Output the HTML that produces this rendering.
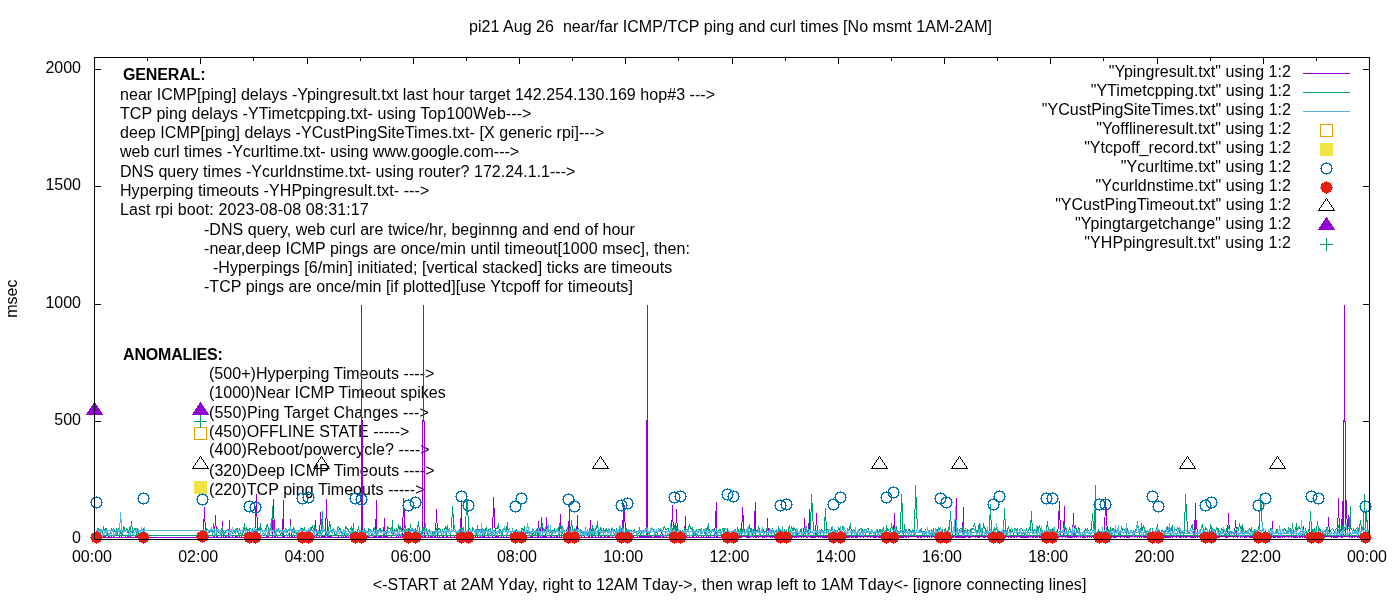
<!DOCTYPE html>
<html lang="en"><head><meta charset="utf-8"><title>pi21 Aug 26 near/far ICMP/TCP ping and curl times</title>
<style>html,body{margin:0;padding:0;background:#fff}body{width:1400px;height:600px;overflow:hidden}svg{display:block}text{font-family:"Liberation Sans",sans-serif;font-size:16px;fill:#000}.b{font-weight:bold}</style></head><body>
<svg width="1400" height="600" viewBox="0 0 1400 600">
<rect width="1400" height="600" fill="#fff"/>
<g id="labels">
<text x="469.1" y="32" xml:space="preserve" style="letter-spacing:0.0324px">pi21 Aug 26  near/far ICMP/TCP ping and curl times [No msmt 1AM-2AM]</text>
<text x="372.8" y="590.3" style="letter-spacing:0.0384px">&lt;-START at 2AM Yday, right to 12AM Tday-&gt;, then wrap left to 1AM Tday&lt;- [ignore connecting lines]</text>
<text transform="translate(17.3,298.6) rotate(-90)" text-anchor="middle">msec</text>
<text x="81" y="542.8" text-anchor="end">0</text>
<text x="81" y="425.3" text-anchor="end">500</text>
<text x="81" y="307.8" text-anchor="end">1000</text>
<text x="81" y="190.3" text-anchor="end">1500</text>
<text x="81" y="72.8" text-anchor="end">2000</text>
<text x="92.0" y="562.4" text-anchor="middle">00:00</text>
<text x="198.2" y="562.4" text-anchor="middle">02:00</text>
<text x="304.5" y="562.4" text-anchor="middle">04:00</text>
<text x="410.8" y="562.4" text-anchor="middle">06:00</text>
<text x="517.0" y="562.4" text-anchor="middle">08:00</text>
<text x="623.2" y="562.4" text-anchor="middle">10:00</text>
<text x="729.5" y="562.4" text-anchor="middle">12:00</text>
<text x="835.8" y="562.4" text-anchor="middle">14:00</text>
<text x="942.0" y="562.4" text-anchor="middle">16:00</text>
<text x="1048.2" y="562.4" text-anchor="middle">18:00</text>
<text x="1154.5" y="562.4" text-anchor="middle">20:00</text>
<text x="1260.8" y="562.4" text-anchor="middle">22:00</text>
<text x="1367.0" y="562.4" text-anchor="middle">00:00</text>
<text class="b" x="123" y="80" style="letter-spacing:-0.1500px">GENERAL:</text>
<text x="120" y="100" style="letter-spacing:0.0530px">near ICMP[ping] delays -Ypingresult.txt last hour target 142.254.130.169 hop#3 ---&gt;</text>
<text x="120" y="119" style="letter-spacing:0.0630px">TCP ping delays -YTimetcpping.txt- using Top100Web---&gt;</text>
<text x="120" y="138" style="letter-spacing:0.0537px">deep ICMP[ping] delays -YCustPingSiteTimes.txt- [X generic rpi]---&gt;</text>
<text x="120" y="157" style="letter-spacing:0.0073px">web curl times -Ycurltime.txt- using www.google.com---&gt;</text>
<text x="120" y="177" style="letter-spacing:0.0381px">DNS query times -Ycurldnstime.txt- using router? 172.24.1.1---&gt;</text>
<text x="120" y="196" style="letter-spacing:0.0698px">Hyperping timeouts -YHPpingresult.txt- ---&gt;</text>
<text x="120" y="215" style="letter-spacing:0.0971px">Last rpi boot: 2023-08-08 08:31:17</text>
<text x="204" y="235" style="letter-spacing:0.0407px">-DNS query, web curl are twice/hr, beginnng and end of hour</text>
<text x="204" y="254" style="letter-spacing:0.0500px">-near,deep ICMP pings are once/min until timeout[1000 msec], then:</text>
<text x="212.9" y="273" style="letter-spacing:0.0603px">-Hyperpings [6/min] initiated; [vertical stacked] ticks are timeouts</text>
<text x="204" y="292" style="letter-spacing:0.0323px">-TCP pings are once/min [if plotted][use Ytcpoff for timeouts]</text>
<text class="b" x="123" y="360" style="letter-spacing:-0.1700px">ANOMALIES:</text>
<text x="209" y="379" style="letter-spacing:0.0467px">(500+)Hyperping Timeouts ----&gt;</text>
<text x="209" y="398" style="letter-spacing:0.0167px">(1000)Near ICMP Timeout spikes</text>
<text x="209" y="417.6" style="letter-spacing:0.1241px">(550)Ping Target Changes ---&gt;</text>
<text x="209" y="437" style="letter-spacing:0.0600px">(450)OFFLINE STATE -----&gt;</text>
<text x="209" y="455.3" style="letter-spacing:0.1172px">(400)Reboot/powercycle? ----&gt;</text>
<text x="209" y="476" style="letter-spacing:0.0483px">(320)Deep ICMP Timeouts ----&gt;</text>
<text x="209" y="495" style="letter-spacing:0.0690px">(220)TCP ping Timeouts -----&gt;</text>
</g>
<g id="legend">
<text x="1291" y="77.0" text-anchor="end" style="letter-spacing:0.0519px">&quot;Ypingresult.txt&quot; using 1:2</text>
<text x="1291" y="96.0" text-anchor="end" style="letter-spacing:0.0357px">&quot;YTimetcpping.txt&quot; using 1:2</text>
<text x="1291" y="115.1" text-anchor="end" style="letter-spacing:0.0294px">&quot;YCustPingSiteTimes.txt&quot; using 1:2</text>
<text x="1291" y="134.1" text-anchor="end" style="letter-spacing:0.0667px">&quot;Yofflineresult.txt&quot; using 1:2</text>
<text x="1291" y="153.2" text-anchor="end" style="letter-spacing:0.0333px">&quot;Ytcpoff_record.txt&quot; using 1:2</text>
<text x="1291" y="172.2" text-anchor="end" style="letter-spacing:0.0560px">&quot;Ycurltime.txt&quot; using 1:2</text>
<text x="1291" y="191.2" text-anchor="end" style="letter-spacing:0.0357px">&quot;Ycurldnstime.txt&quot; using 1:2</text>
<text x="1291" y="210.3" text-anchor="end" style="letter-spacing:0.0312px">&quot;YCustPingTimeout.txt&quot; using 1:2</text>
<text x="1291" y="229.3" text-anchor="end" style="letter-spacing:0.0690px">&quot;Ypingtargetchange&quot; using 1:2</text>
<text x="1291" y="248.4" text-anchor="end" style="letter-spacing:0.0828px">&quot;YHPpingresult.txt&quot; using 1:2</text>
</g>
<g id="ticks"><path d="M94.5 539.5h6.5M1369.5 539.5h-6.5M94.5 421.5h6.5M1369.5 421.5h-6.5M94.5 304.5h6.5M1369.5 304.5h-6.5M94.5 186.5h6.5M1369.5 186.5h-6.5M94.5 69.5h6.5M1369.5 69.5h-6.5M94.5 57.5v6.5M94.5 539.5v-6.5M147.5 57.5v3.5M147.5 539.5v-3.5M200.5 57.5v6.5M200.5 539.5v-6.5M253.5 57.5v3.5M253.5 539.5v-3.5M307.5 57.5v6.5M307.5 539.5v-6.5M360.5 57.5v3.5M360.5 539.5v-3.5M413.5 57.5v6.5M413.5 539.5v-6.5M466.5 57.5v3.5M466.5 539.5v-3.5M519.5 57.5v6.5M519.5 539.5v-6.5M572.5 57.5v3.5M572.5 539.5v-3.5M625.5 57.5v6.5M625.5 539.5v-6.5M678.5 57.5v3.5M678.5 539.5v-3.5M732.5 57.5v6.5M732.5 539.5v-6.5M785.5 57.5v3.5M785.5 539.5v-3.5M838.5 57.5v6.5M838.5 539.5v-6.5M891.5 57.5v3.5M891.5 539.5v-3.5M944.5 57.5v6.5M944.5 539.5v-6.5M997.5 57.5v3.5M997.5 539.5v-3.5M1050.5 57.5v6.5M1050.5 539.5v-6.5M1103.5 57.5v3.5M1103.5 539.5v-3.5M1157.5 57.5v6.5M1157.5 539.5v-6.5M1210.5 57.5v3.5M1210.5 539.5v-3.5M1263.5 57.5v6.5M1263.5 539.5v-6.5M1316.5 57.5v3.5M1316.5 539.5v-3.5M1369.5 57.5v6.5M1369.5 539.5v-6.5" stroke="#000" stroke-width="1" fill="none" shape-rendering="crispEdges"/></g>
<g id="data">
<path d="M200.5,536.5 201.5,537.5 202.5,536.5 203.5,530.5 204.5,507.5 205.5,536.5 206.5,536.5 206.5,536.5 207.5,536.5 208.5,537.5 209.5,537.5 210.5,537.5 211.5,537.5 212.5,537.5 213.5,536.5 214.5,537.5 214.5,536.5 215.5,515.5 216.5,535.5 217.5,537.5 218.5,537.5 219.5,537.5 220.5,537.5 221.5,536.5 222.5,521.5 222.5,530.5 223.5,537.5 224.5,537.5 225.5,536.5 226.5,536.5 227.5,537.5 228.5,537.5 229.5,520.5 229.5,537.5 230.5,537.5 231.5,537.5 232.5,536.5 233.5,537.5 234.5,537.5 235.5,536.5 236.5,536.5 237.5,536.5 237.5,537.5 238.5,537.5 239.5,536.5 240.5,537.5 241.5,536.5 242.5,537.5 243.5,537.5 244.5,536.5 245.5,536.5 245.5,536.5 246.5,536.5 247.5,536.5 248.5,536.5 249.5,536.5 250.5,537.5 251.5,537.5 252.5,537.5 252.5,537.5 253.5,536.5 254.5,536.5 255.5,520.5 256.5,494.5 257.5,537.5 258.5,537.5 259.5,537.5 260.5,537.5 260.5,537.5 261.5,536.5 262.5,537.5 263.5,537.5 264.5,537.5 265.5,537.5 266.5,536.5 267.5,536.5 268.5,537.5 268.5,536.5 269.5,537.5 270.5,537.5 271.5,537.5 272.5,537.5 273.5,499.5 274.5,536.5 275.5,536.5 276.5,537.5 276.5,537.5 277.5,536.5 278.5,537.5 279.5,537.5 280.5,537.5 281.5,537.5 282.5,537.5 283.5,500.5 283.5,537.5 284.5,536.5 285.5,537.5 286.5,537.5 287.5,537.5 288.5,537.5 289.5,536.5 290.5,519.5 291.5,537.5 291.5,537.5 292.5,536.5 293.5,537.5 294.5,536.5 295.5,537.5 296.5,536.5 297.5,537.5 298.5,536.5 299.5,536.5 299.5,536.5 300.5,536.5 301.5,537.5 302.5,536.5 303.5,536.5 304.5,536.5 305.5,536.5 306.5,536.5 307.5,536.5 307.5,537.5 308.5,536.5 309.5,536.5 310.5,537.5 311.5,537.5 312.5,536.5 313.5,537.5 314.5,537.5 314.5,537.5 315.5,520.5 316.5,537.5 317.5,537.5 318.5,537.5 319.5,537.5 320.5,512.5 321.5,537.5 322.5,536.5 322.5,536.5 323.5,536.5 324.5,536.5 325.5,537.5 326.5,499.5 327.5,537.5 328.5,536.5 329.5,536.5 330.5,536.5 330.5,537.5 331.5,536.5 332.5,537.5 333.5,537.5 334.5,537.5 335.5,537.5 336.5,537.5 337.5,537.5 337.5,537.5 338.5,536.5 339.5,537.5 340.5,537.5 341.5,536.5 342.5,537.5 343.5,536.5 344.5,537.5 345.5,536.5 345.5,537.5 346.5,536.5 347.5,537.5 348.5,536.5 349.5,537.5 350.5,536.5 351.5,537.5 352.5,536.5 353.5,536.5 353.5,527.5 354.5,537.5 355.5,537.5 356.5,537.5 357.5,536.5 358.5,537.5 359.5,536.5 361.5,536.5 361.5,304.5 361.5,420.5 362.5,420.5 362.5,536.5 363.5,537.5 364.5,537.5 365.5,537.5 366.5,536.5 367.5,536.5 368.5,536.5 368.5,536.5 369.5,536.5 370.5,537.5 371.5,537.5 372.5,537.5 373.5,536.5 374.5,536.5 375.5,537.5 376.5,500.5 376.5,537.5 377.5,537.5 378.5,537.5 379.5,535.5 380.5,537.5 381.5,536.5 382.5,537.5 383.5,536.5 384.5,518.5 384.5,536.5 385.5,536.5 386.5,536.5 387.5,536.5 388.5,537.5 389.5,537.5 390.5,537.5 391.5,536.5 392.5,537.5 392.5,537.5 393.5,537.5 394.5,537.5 395.5,537.5 396.5,536.5 397.5,537.5 398.5,536.5 399.5,537.5 399.5,537.5 400.5,536.5 401.5,537.5 402.5,536.5 403.5,498.5 404.5,518.5 405.5,537.5 406.5,536.5 407.5,536.5 407.5,537.5 408.5,537.5 409.5,536.5 410.5,537.5 411.5,536.5 412.5,537.5 413.5,536.5 414.5,537.5 415.5,537.5 415.5,536.5 416.5,537.5 417.5,537.5 418.5,536.5 419.5,537.5 420.5,536.5 421.5,536.5 422.5,536.5 422.5,420.5 423.5,420.5 423.5,304.5 423.5,421.5 424.5,421.5 424.5,536.5 425.5,536.5 426.5,537.5 427.5,537.5 428.5,536.5 429.5,537.5 430.5,536.5 430.5,537.5 431.5,536.5 432.5,536.5 433.5,537.5 434.5,536.5 435.5,537.5 436.5,509.5 437.5,536.5 438.5,537.5 438.5,537.5 439.5,536.5 440.5,537.5 441.5,537.5 442.5,536.5 443.5,536.5 444.5,537.5 445.5,537.5 446.5,536.5 446.5,536.5 447.5,536.5 448.5,537.5 449.5,537.5 450.5,536.5 451.5,537.5 452.5,537.5 453.5,537.5 453.5,537.5 454.5,536.5 455.5,537.5 456.5,536.5 457.5,537.5 458.5,536.5 459.5,537.5 460.5,536.5 461.5,500.5 461.5,537.5 462.5,537.5 463.5,536.5 464.5,536.5 465.5,537.5 466.5,536.5 467.5,537.5 468.5,537.5 469.5,537.5 469.5,537.5 470.5,536.5 471.5,536.5 472.5,536.5 473.5,536.5 474.5,537.5 475.5,536.5 476.5,537.5 477.5,536.5 477.5,537.5 478.5,537.5 479.5,536.5 480.5,536.5 481.5,537.5 482.5,536.5 483.5,536.5 484.5,536.5 484.5,536.5 485.5,537.5 486.5,537.5 487.5,537.5 488.5,536.5 489.5,537.5 490.5,537.5 491.5,537.5 492.5,537.5 492.5,537.5 493.5,497.5 494.5,518.5 495.5,537.5 496.5,536.5 497.5,536.5 498.5,536.5 499.5,537.5 500.5,537.5 500.5,537.5 501.5,536.5 502.5,537.5 503.5,536.5 504.5,537.5 505.5,537.5 506.5,536.5 507.5,537.5 507.5,537.5 508.5,537.5 509.5,537.5 510.5,537.5 511.5,536.5 512.5,537.5 513.5,537.5 514.5,537.5 515.5,536.5 515.5,537.5 516.5,536.5 517.5,537.5 518.5,537.5 519.5,536.5 520.5,537.5 521.5,536.5 522.5,536.5 523.5,536.5 523.5,536.5 524.5,537.5 525.5,537.5 526.5,537.5 527.5,537.5 528.5,537.5 529.5,537.5 530.5,536.5 531.5,536.5 531.5,536.5 532.5,536.5 533.5,537.5 534.5,537.5 535.5,537.5 536.5,537.5 537.5,536.5 538.5,521.5 538.5,536.5 539.5,537.5 540.5,536.5 541.5,517.5 542.5,536.5 543.5,536.5 544.5,536.5 545.5,536.5 546.5,517.5 546.5,536.5 547.5,537.5 548.5,537.5 549.5,537.5 550.5,536.5 551.5,536.5 552.5,537.5 553.5,537.5 554.5,536.5 554.5,536.5 555.5,537.5 556.5,536.5 557.5,536.5 558.5,537.5 559.5,537.5 560.5,514.5 561.5,536.5 562.5,537.5 562.5,537.5 563.5,537.5 564.5,537.5 565.5,537.5 566.5,536.5 567.5,537.5 568.5,537.5 569.5,505.5 569.5,536.5 570.5,537.5 571.5,536.5 572.5,537.5 573.5,537.5 574.5,536.5 575.5,537.5 576.5,537.5 577.5,515.5 577.5,537.5 578.5,537.5 579.5,537.5 580.5,537.5 581.5,536.5 582.5,537.5 583.5,537.5 584.5,536.5 585.5,537.5 585.5,537.5 586.5,537.5 587.5,537.5 588.5,536.5 589.5,537.5 590.5,520.5 591.5,537.5 592.5,537.5 592.5,536.5 593.5,537.5 594.5,537.5 595.5,536.5 596.5,537.5 597.5,537.5 598.5,536.5 599.5,537.5 600.5,536.5 600.5,537.5 601.5,536.5 602.5,537.5 603.5,537.5 604.5,536.5 605.5,536.5 606.5,537.5 607.5,536.5 608.5,536.5 608.5,537.5 609.5,536.5 610.5,537.5 611.5,537.5 612.5,536.5 613.5,537.5 614.5,537.5 615.5,536.5 616.5,536.5 616.5,536.5 617.5,537.5 618.5,537.5 619.5,537.5 620.5,536.5 621.5,537.5 622.5,536.5 623.5,503.5 623.5,537.5 624.5,505.5 625.5,537.5 626.5,537.5 627.5,537.5 628.5,536.5 629.5,536.5 630.5,537.5 631.5,536.5 631.5,537.5 632.5,537.5 633.5,536.5 634.5,537.5 635.5,537.5 636.5,537.5 637.5,536.5 638.5,537.5 639.5,537.5 639.5,536.5 640.5,536.5 641.5,536.5 642.5,536.5 643.5,536.5 644.5,536.5 645.5,536.5 646.5,536.5 646.5,420.5 647.5,420.5 647.5,304.5 647.5,536.5 649.5,536.5 650.5,536.5 651.5,536.5 652.5,537.5 653.5,537.5 654.5,536.5 654.5,536.5 655.5,536.5 656.5,536.5 657.5,536.5 658.5,536.5 659.5,536.5 660.5,536.5 661.5,531.5 662.5,533.5 662.5,537.5 663.5,536.5 664.5,537.5 665.5,537.5 666.5,536.5 667.5,537.5 668.5,537.5 669.5,536.5 670.5,537.5 670.5,536.5 671.5,536.5 672.5,505.5 673.5,537.5 674.5,537.5 675.5,536.5 676.5,509.5 677.5,536.5 677.5,536.5 678.5,536.5 679.5,537.5 680.5,537.5 681.5,536.5 682.5,537.5 683.5,536.5 684.5,536.5 685.5,516.5 685.5,537.5 686.5,536.5 687.5,537.5 688.5,537.5 689.5,536.5 690.5,537.5 691.5,537.5 692.5,536.5 693.5,537.5 693.5,536.5 694.5,537.5 695.5,537.5 696.5,536.5 697.5,537.5 698.5,536.5 699.5,537.5 700.5,537.5 701.5,536.5 701.5,536.5 702.5,537.5 703.5,536.5 704.5,537.5 705.5,537.5 706.5,536.5 707.5,537.5 708.5,536.5 708.5,537.5 709.5,537.5 710.5,536.5 711.5,537.5 712.5,537.5 713.5,537.5 714.5,536.5 715.5,520.5 716.5,502.5 716.5,537.5 717.5,536.5 718.5,537.5 719.5,537.5 720.5,537.5 721.5,536.5 722.5,537.5 723.5,537.5 724.5,537.5 724.5,537.5 725.5,536.5 726.5,536.5 727.5,537.5 728.5,536.5 729.5,537.5 730.5,537.5 731.5,536.5 732.5,537.5 732.5,536.5 733.5,537.5 734.5,536.5 735.5,536.5 736.5,537.5 737.5,537.5 738.5,536.5 739.5,536.5 739.5,537.5 740.5,537.5 741.5,537.5 742.5,507.5 743.5,521.5 744.5,536.5 745.5,536.5 746.5,537.5 747.5,536.5 747.5,537.5 748.5,537.5 749.5,537.5 750.5,537.5 751.5,536.5 752.5,536.5 753.5,537.5 754.5,520.5 755.5,502.5 755.5,537.5 756.5,537.5 757.5,536.5 758.5,537.5 759.5,536.5 760.5,536.5 761.5,536.5 762.5,536.5 762.5,537.5 763.5,537.5 764.5,537.5 765.5,536.5 766.5,537.5 767.5,518.5 768.5,536.5 769.5,536.5 770.5,537.5 770.5,537.5 771.5,536.5 772.5,537.5 773.5,536.5 774.5,536.5 775.5,536.5 776.5,537.5 777.5,537.5 778.5,536.5 778.5,536.5 779.5,537.5 780.5,536.5 781.5,537.5 782.5,536.5 783.5,537.5 784.5,536.5 785.5,537.5 786.5,537.5 786.5,536.5 787.5,537.5 788.5,537.5 789.5,537.5 790.5,536.5 791.5,537.5 792.5,536.5 793.5,536.5 793.5,536.5 794.5,537.5 795.5,537.5 796.5,537.5 797.5,536.5 798.5,537.5 799.5,536.5 800.5,536.5 801.5,537.5 801.5,537.5 802.5,536.5 803.5,537.5 804.5,518.5 805.5,536.5 806.5,537.5 807.5,537.5 808.5,536.5 809.5,509.5 809.5,536.5 810.5,537.5 811.5,537.5 812.5,537.5 813.5,537.5 814.5,537.5 815.5,537.5 816.5,513.5 817.5,536.5 817.5,536.5 818.5,537.5 819.5,536.5 820.5,537.5 821.5,536.5 822.5,537.5 823.5,537.5 824.5,536.5 824.5,537.5 825.5,537.5 826.5,537.5 827.5,537.5 828.5,536.5 829.5,537.5 830.5,537.5 831.5,536.5 832.5,537.5 832.5,536.5 833.5,536.5 834.5,536.5 835.5,537.5 836.5,537.5 837.5,536.5 838.5,537.5 839.5,536.5 840.5,536.5 840.5,536.5 841.5,537.5 842.5,537.5 843.5,537.5 844.5,537.5 845.5,536.5 846.5,536.5 847.5,536.5 847.5,537.5 848.5,537.5 849.5,537.5 850.5,536.5 851.5,537.5 852.5,537.5 853.5,537.5 854.5,536.5 855.5,537.5 855.5,537.5 856.5,537.5 857.5,537.5 858.5,536.5 859.5,536.5 860.5,537.5 861.5,536.5 862.5,536.5 863.5,537.5 863.5,537.5 864.5,536.5 865.5,536.5 866.5,536.5 867.5,537.5 868.5,536.5 869.5,536.5 870.5,537.5 871.5,536.5 871.5,536.5 872.5,536.5 873.5,537.5 874.5,537.5 875.5,537.5 876.5,537.5 877.5,536.5 878.5,537.5 878.5,537.5 879.5,537.5 880.5,536.5 881.5,537.5 882.5,537.5 883.5,537.5 884.5,536.5 885.5,537.5 886.5,537.5 886.5,536.5 887.5,537.5 888.5,536.5 889.5,536.5 890.5,536.5 891.5,536.5 892.5,537.5 893.5,536.5 894.5,513.5 894.5,537.5 895.5,537.5 896.5,537.5 897.5,537.5 898.5,537.5 899.5,536.5 900.5,537.5 901.5,537.5 902.5,537.5 902.5,537.5 903.5,537.5 904.5,536.5 905.5,537.5 906.5,537.5 907.5,536.5 908.5,537.5 909.5,536.5 909.5,536.5 910.5,536.5 911.5,536.5 912.5,536.5 913.5,536.5 914.5,536.5 915.5,536.5 916.5,536.5 917.5,536.5 917.5,537.5 918.5,537.5 919.5,536.5 920.5,537.5 921.5,537.5 922.5,536.5 923.5,536.5 924.5,537.5 925.5,536.5 925.5,536.5 926.5,536.5 927.5,537.5 928.5,536.5 929.5,537.5 930.5,536.5 931.5,537.5 932.5,536.5 932.5,536.5 933.5,536.5 934.5,537.5 935.5,537.5 936.5,536.5 937.5,536.5 938.5,537.5 939.5,537.5 940.5,537.5 940.5,536.5 941.5,537.5 942.5,537.5 943.5,536.5 944.5,537.5 945.5,536.5 946.5,536.5 947.5,536.5 948.5,537.5 948.5,536.5 949.5,537.5 950.5,537.5 951.5,536.5 952.5,536.5 953.5,537.5 954.5,536.5 955.5,537.5 956.5,498.5 956.5,537.5 957.5,537.5 958.5,537.5 959.5,537.5 960.5,537.5 961.5,537.5 962.5,537.5 963.5,507.5 963.5,537.5 964.5,537.5 965.5,537.5 966.5,536.5 967.5,536.5 968.5,537.5 969.5,537.5 970.5,537.5 971.5,536.5 971.5,536.5 972.5,536.5 973.5,536.5 974.5,536.5 975.5,537.5 976.5,536.5 977.5,537.5 978.5,537.5 979.5,536.5 979.5,537.5 980.5,536.5 981.5,536.5 982.5,536.5 983.5,537.5 984.5,537.5 985.5,537.5 986.5,536.5 987.5,537.5 987.5,537.5 988.5,537.5 989.5,536.5 990.5,536.5 991.5,536.5 992.5,536.5 993.5,536.5 994.5,537.5 994.5,537.5 995.5,537.5 996.5,537.5 997.5,537.5 998.5,537.5 999.5,537.5 1000.5,537.5 1001.5,537.5 1002.5,536.5 1002.5,537.5 1003.5,537.5 1004.5,536.5 1005.5,536.5 1006.5,536.5 1007.5,536.5 1008.5,537.5 1009.5,536.5 1010.5,537.5 1010.5,537.5 1011.5,537.5 1012.5,536.5 1013.5,537.5 1014.5,537.5 1015.5,536.5 1016.5,537.5 1017.5,536.5 1017.5,536.5 1018.5,536.5 1019.5,536.5 1020.5,537.5 1021.5,537.5 1022.5,537.5 1023.5,537.5 1024.5,537.5 1025.5,537.5 1025.5,537.5 1026.5,537.5 1027.5,537.5 1028.5,537.5 1029.5,536.5 1030.5,537.5 1031.5,536.5 1032.5,537.5 1033.5,537.5 1033.5,536.5 1034.5,536.5 1035.5,537.5 1036.5,537.5 1037.5,537.5 1038.5,536.5 1039.5,537.5 1040.5,536.5 1041.5,537.5 1041.5,537.5 1042.5,536.5 1043.5,536.5 1044.5,536.5 1045.5,536.5 1046.5,537.5 1047.5,537.5 1048.5,536.5 1048.5,536.5 1049.5,537.5 1050.5,537.5 1051.5,537.5 1052.5,536.5 1053.5,536.5 1054.5,537.5 1055.5,537.5 1056.5,537.5 1056.5,536.5 1057.5,537.5 1058.5,520.5 1059.5,501.5 1060.5,536.5 1061.5,536.5 1062.5,537.5 1063.5,536.5 1064.5,506.5 1064.5,536.5 1065.5,537.5 1066.5,536.5 1067.5,537.5 1068.5,537.5 1069.5,537.5 1070.5,537.5 1071.5,537.5 1072.5,537.5 1072.5,537.5 1073.5,513.5 1074.5,537.5 1075.5,536.5 1076.5,537.5 1077.5,536.5 1078.5,536.5 1079.5,536.5 1079.5,536.5 1080.5,537.5 1081.5,536.5 1082.5,537.5 1083.5,537.5 1084.5,537.5 1085.5,537.5 1086.5,536.5 1087.5,537.5 1087.5,536.5 1088.5,536.5 1089.5,537.5 1090.5,536.5 1091.5,537.5 1092.5,536.5 1093.5,537.5 1094.5,536.5 1095.5,536.5 1095.5,536.5 1096.5,536.5 1097.5,537.5 1098.5,537.5 1099.5,537.5 1100.5,537.5 1101.5,536.5 1102.5,536.5 1102.5,536.5 1103.5,536.5 1104.5,536.5 1105.5,497.5 1106.5,515.5 1107.5,536.5 1108.5,536.5 1109.5,536.5 1110.5,536.5 1110.5,536.5 1111.5,536.5 1112.5,536.5 1113.5,537.5 1114.5,537.5 1115.5,537.5 1116.5,537.5 1117.5,536.5 1118.5,536.5 1118.5,536.5 1119.5,536.5 1120.5,537.5 1121.5,536.5 1122.5,536.5 1123.5,536.5 1124.5,537.5 1125.5,536.5 1126.5,537.5 1126.5,536.5 1127.5,537.5 1128.5,537.5 1129.5,537.5 1130.5,536.5 1131.5,536.5 1132.5,536.5 1133.5,536.5 1133.5,536.5 1134.5,537.5 1135.5,536.5 1136.5,536.5 1137.5,537.5 1138.5,536.5 1139.5,537.5 1140.5,536.5 1141.5,537.5 1141.5,536.5 1142.5,536.5 1143.5,537.5 1144.5,537.5 1145.5,537.5 1146.5,537.5 1147.5,536.5 1148.5,536.5 1149.5,536.5 1149.5,536.5 1150.5,537.5 1151.5,536.5 1152.5,536.5 1153.5,537.5 1154.5,537.5 1155.5,537.5 1156.5,537.5 1157.5,537.5 1157.5,536.5 1158.5,537.5 1159.5,537.5 1160.5,536.5 1161.5,537.5 1162.5,537.5 1163.5,537.5 1164.5,536.5 1164.5,537.5 1165.5,537.5 1166.5,537.5 1167.5,537.5 1168.5,537.5 1169.5,537.5 1170.5,537.5 1171.5,536.5 1172.5,537.5 1172.5,537.5 1173.5,536.5 1174.5,536.5 1175.5,536.5 1176.5,537.5 1177.5,536.5 1178.5,536.5 1179.5,537.5 1180.5,536.5 1180.5,537.5 1181.5,537.5 1182.5,536.5 1183.5,537.5 1184.5,536.5 1185.5,537.5 1186.5,537.5 1187.5,536.5 1187.5,536.5 1188.5,536.5 1189.5,536.5 1190.5,537.5 1191.5,537.5 1192.5,537.5 1193.5,537.5 1194.5,537.5 1195.5,503.5 1195.5,537.5 1196.5,520.5 1197.5,537.5 1198.5,536.5 1199.5,537.5 1200.5,537.5 1201.5,536.5 1202.5,537.5 1203.5,537.5 1203.5,537.5 1204.5,537.5 1205.5,536.5 1206.5,537.5 1207.5,536.5 1208.5,536.5 1209.5,537.5 1210.5,537.5 1211.5,537.5 1211.5,536.5 1212.5,537.5 1213.5,537.5 1214.5,537.5 1215.5,537.5 1216.5,537.5 1217.5,537.5 1218.5,536.5 1218.5,537.5 1219.5,537.5 1220.5,536.5 1221.5,536.5 1222.5,536.5 1223.5,536.5 1224.5,536.5 1225.5,537.5 1226.5,537.5 1226.5,536.5 1227.5,537.5 1228.5,513.5 1229.5,536.5 1230.5,536.5 1231.5,536.5 1232.5,536.5 1233.5,537.5 1234.5,536.5 1234.5,536.5 1235.5,520.5 1236.5,532.5 1237.5,537.5 1238.5,536.5 1239.5,536.5 1240.5,537.5 1241.5,536.5 1242.5,537.5 1242.5,537.5 1243.5,536.5 1244.5,537.5 1245.5,537.5 1246.5,537.5 1247.5,536.5 1248.5,536.5 1249.5,536.5 1249.5,537.5 1250.5,537.5 1251.5,537.5 1252.5,536.5 1253.5,536.5 1254.5,537.5 1255.5,536.5 1256.5,537.5 1257.5,537.5 1257.5,536.5 1258.5,537.5 1259.5,537.5 1260.5,537.5 1261.5,537.5 1262.5,537.5 1263.5,536.5 1264.5,537.5 1265.5,536.5 1265.5,537.5 1266.5,537.5 1267.5,537.5 1268.5,537.5 1269.5,536.5 1270.5,536.5 1271.5,537.5 1272.5,521.5 1272.5,536.5 1273.5,537.5 1274.5,537.5 1275.5,537.5 1276.5,536.5 1277.5,537.5 1278.5,537.5 1279.5,537.5 1280.5,537.5 1280.5,537.5 1281.5,536.5 1282.5,537.5 1283.5,536.5 1284.5,537.5 1285.5,536.5 1286.5,536.5 1287.5,536.5 1288.5,536.5 1288.5,537.5 1289.5,536.5 1290.5,536.5 1291.5,537.5 1292.5,536.5 1293.5,537.5 1294.5,537.5 1295.5,537.5 1296.5,536.5 1296.5,537.5 1297.5,537.5 1298.5,536.5 1299.5,537.5 1300.5,537.5 1301.5,536.5 1302.5,537.5 1303.5,526.5 1303.5,532.5 1304.5,537.5 1305.5,536.5 1306.5,536.5 1307.5,536.5 1308.5,537.5 1309.5,537.5 1310.5,537.5 1311.5,537.5 1311.5,537.5 1312.5,536.5 1313.5,537.5 1314.5,537.5 1315.5,537.5 1316.5,536.5 1317.5,537.5 1318.5,537.5 1319.5,536.5 1319.5,537.5 1320.5,536.5 1321.5,536.5 1322.5,537.5 1323.5,536.5 1324.5,537.5 1325.5,536.5 1326.5,536.5 1327.5,536.5 1327.5,536.5 1328.5,517.5 1329.5,536.5 1330.5,536.5 1331.5,537.5 1332.5,536.5 1333.5,537.5 1334.5,536.5 1334.5,537.5 1335.5,537.5 1336.5,537.5 1337.5,537.5 1338.5,498.5 1339.5,536.5 1340.5,536.5 1341.5,537.5 1342.5,501.5 1342.5,537.5 1343.5,536.5 1343.5,420.5 1344.5,420.5 1344.5,304.5 1344.5,421.5 1345.5,421.5 1345.5,536.5 1346.5,500.5 1347.5,536.5 1348.5,515.5 1349.5,537.5 1350.5,536.5 1350.5,536.5 1351.5,537.5 1352.5,537.5 1353.5,536.5 1354.5,537.5 1355.5,536.5 1356.5,536.5 1357.5,537.5 1357.5,536.5 1358.5,537.5 1359.5,536.5 1360.5,536.5 1361.5,536.5 1362.5,536.5 1363.5,536.5 1364.5,537.5 1365.5,537.5 1365.5,537.5 1366.5,536.5 1367.5,536.5 1368.5,536.5 1368.5,536.5 96.5,537.5 97.5,536.5 98.5,537.5 98.5,536.5 99.5,537.5 100.5,537.5 101.5,536.5 102.5,537.5 103.5,536.5 104.5,536.5 105.5,536.5 106.5,537.5 106.5,537.5 107.5,537.5 108.5,536.5 109.5,536.5 110.5,537.5 111.5,536.5 112.5,537.5 113.5,536.5 113.5,536.5 114.5,537.5 115.5,537.5 116.5,537.5 117.5,537.5 118.5,537.5 119.5,536.5 120.5,537.5 121.5,536.5 121.5,537.5 122.5,537.5 123.5,537.5 124.5,537.5 125.5,536.5 126.5,537.5 127.5,536.5 128.5,536.5 129.5,536.5 129.5,537.5 130.5,536.5 131.5,537.5 132.5,537.5 133.5,537.5 134.5,537.5 135.5,536.5 136.5,536.5 137.5,536.5 137.5,537.5 138.5,536.5 139.5,536.5 140.5,536.5 141.5,537.5 142.5,537.5 143.5,536.5 144.5,537.5 144.5,537.5" fill="none" stroke="#9400d3" stroke-width="1" stroke-linejoin="miter" stroke-miterlimit="1" shape-rendering="crispEdges"/>
<path d="M200.5,530.5 201.5,534.5 202.5,532.5 203.5,529.5 204.5,531.5 205.5,530.5 206.5,532.5 206.5,528.5 207.5,529.5 208.5,530.5 209.5,532.5 210.5,529.5 211.5,528.5 212.5,534.5 213.5,523.5 214.5,532.5 214.5,533.5 215.5,534.5 216.5,535.5 217.5,529.5 218.5,532.5 219.5,532.5 220.5,535.5 221.5,528.5 222.5,527.5 222.5,532.5 223.5,530.5 224.5,533.5 225.5,531.5 226.5,531.5 227.5,529.5 228.5,531.5 229.5,532.5 229.5,529.5 230.5,531.5 231.5,530.5 232.5,533.5 233.5,530.5 234.5,532.5 235.5,533.5 236.5,528.5 237.5,528.5 237.5,528.5 238.5,534.5 239.5,528.5 240.5,533.5 241.5,533.5 242.5,535.5 243.5,530.5 244.5,523.5 245.5,535.5 245.5,529.5 246.5,527.5 247.5,531.5 248.5,530.5 249.5,528.5 250.5,528.5 251.5,529.5 252.5,528.5 252.5,530.5 253.5,533.5 254.5,533.5 255.5,530.5 256.5,529.5 257.5,533.5 258.5,528.5 259.5,530.5 260.5,523.5 260.5,532.5 261.5,528.5 262.5,531.5 263.5,532.5 264.5,531.5 265.5,530.5 266.5,526.5 267.5,524.5 268.5,529.5 268.5,534.5 269.5,533.5 270.5,526.5 271.5,530.5 272.5,506.5 273.5,532.5 274.5,532.5 275.5,530.5 276.5,534.5 276.5,530.5 277.5,530.5 278.5,528.5 279.5,531.5 280.5,534.5 281.5,533.5 282.5,533.5 283.5,529.5 283.5,533.5 284.5,532.5 285.5,528.5 286.5,530.5 287.5,532.5 288.5,529.5 289.5,532.5 290.5,525.5 291.5,531.5 291.5,532.5 292.5,530.5 293.5,527.5 294.5,532.5 295.5,533.5 296.5,532.5 297.5,534.5 298.5,531.5 299.5,535.5 299.5,533.5 300.5,527.5 301.5,529.5 302.5,528.5 303.5,530.5 304.5,527.5 305.5,532.5 306.5,533.5 307.5,532.5 307.5,532.5 308.5,534.5 309.5,533.5 310.5,527.5 311.5,529.5 312.5,525.5 313.5,530.5 314.5,534.5 314.5,525.5 315.5,529.5 316.5,533.5 317.5,534.5 318.5,530.5 319.5,534.5 320.5,533.5 321.5,527.5 322.5,511.5 322.5,532.5 323.5,530.5 324.5,531.5 325.5,532.5 326.5,532.5 327.5,531.5 328.5,533.5 329.5,521.5 330.5,526.5 330.5,527.5 331.5,532.5 332.5,530.5 333.5,528.5 334.5,534.5 335.5,535.5 336.5,533.5 337.5,530.5 337.5,528.5 338.5,526.5 339.5,529.5 340.5,528.5 341.5,533.5 342.5,532.5 343.5,533.5 344.5,534.5 345.5,528.5 345.5,526.5 346.5,528.5 347.5,528.5 348.5,530.5 349.5,533.5 350.5,530.5 351.5,526.5 352.5,532.5 353.5,523.5 353.5,534.5 354.5,531.5 355.5,533.5 356.5,531.5 357.5,531.5 358.5,526.5 359.5,532.5 360.5,530.5 361.5,534.5 361.5,531.5 362.5,532.5 363.5,532.5 364.5,528.5 365.5,532.5 366.5,532.5 367.5,533.5 368.5,532.5 368.5,528.5 369.5,530.5 370.5,531.5 371.5,534.5 372.5,534.5 373.5,529.5 374.5,527.5 375.5,532.5 376.5,529.5 376.5,534.5 377.5,530.5 378.5,532.5 379.5,528.5 380.5,528.5 381.5,532.5 382.5,530.5 383.5,531.5 384.5,531.5 384.5,531.5 385.5,532.5 386.5,535.5 387.5,526.5 388.5,528.5 389.5,528.5 390.5,528.5 391.5,533.5 392.5,520.5 392.5,534.5 393.5,534.5 394.5,529.5 395.5,531.5 396.5,528.5 397.5,533.5 398.5,524.5 399.5,527.5 399.5,534.5 400.5,526.5 401.5,529.5 402.5,531.5 403.5,528.5 404.5,534.5 405.5,525.5 406.5,532.5 407.5,531.5 407.5,532.5 408.5,528.5 409.5,531.5 410.5,524.5 411.5,531.5 412.5,528.5 413.5,529.5 414.5,531.5 415.5,528.5 415.5,532.5 416.5,530.5 417.5,529.5 418.5,521.5 419.5,532.5 420.5,534.5 421.5,535.5 422.5,528.5 422.5,534.5 423.5,527.5 424.5,529.5 425.5,523.5 426.5,532.5 427.5,533.5 428.5,530.5 429.5,529.5 430.5,533.5 430.5,532.5 431.5,535.5 432.5,532.5 433.5,531.5 434.5,533.5 435.5,531.5 436.5,528.5 437.5,528.5 438.5,528.5 438.5,529.5 439.5,528.5 440.5,530.5 441.5,534.5 442.5,529.5 443.5,532.5 444.5,530.5 445.5,526.5 446.5,528.5 446.5,535.5 447.5,525.5 448.5,532.5 449.5,533.5 450.5,534.5 451.5,528.5 452.5,506.5 453.5,520.5 453.5,530.5 454.5,525.5 455.5,531.5 456.5,532.5 457.5,534.5 458.5,532.5 459.5,530.5 460.5,528.5 461.5,531.5 461.5,532.5 462.5,528.5 463.5,527.5 464.5,534.5 465.5,534.5 466.5,497.5 467.5,500.5 468.5,531.5 469.5,528.5 469.5,528.5 470.5,530.5 471.5,534.5 472.5,527.5 473.5,528.5 474.5,531.5 475.5,529.5 476.5,534.5 477.5,533.5 477.5,525.5 478.5,532.5 479.5,529.5 480.5,534.5 481.5,529.5 482.5,535.5 483.5,529.5 484.5,534.5 484.5,533.5 485.5,528.5 486.5,527.5 487.5,534.5 488.5,529.5 489.5,529.5 490.5,528.5 491.5,534.5 492.5,529.5 492.5,530.5 493.5,530.5 494.5,531.5 495.5,529.5 496.5,528.5 497.5,528.5 498.5,523.5 499.5,533.5 500.5,529.5 500.5,529.5 501.5,535.5 502.5,535.5 503.5,528.5 504.5,529.5 505.5,528.5 506.5,530.5 507.5,522.5 507.5,528.5 508.5,530.5 509.5,529.5 510.5,533.5 511.5,535.5 512.5,528.5 513.5,533.5 514.5,534.5 515.5,535.5 515.5,530.5 516.5,529.5 517.5,532.5 518.5,533.5 519.5,532.5 520.5,535.5 521.5,528.5 522.5,528.5 523.5,530.5 523.5,534.5 524.5,526.5 525.5,534.5 526.5,531.5 527.5,533.5 528.5,527.5 529.5,534.5 530.5,532.5 531.5,534.5 531.5,531.5 532.5,534.5 533.5,532.5 534.5,535.5 535.5,535.5 536.5,529.5 537.5,528.5 538.5,532.5 538.5,534.5 539.5,529.5 540.5,527.5 541.5,529.5 542.5,523.5 543.5,531.5 544.5,531.5 545.5,527.5 546.5,532.5 546.5,531.5 547.5,526.5 548.5,530.5 549.5,531.5 550.5,530.5 551.5,534.5 552.5,530.5 553.5,531.5 554.5,528.5 554.5,531.5 555.5,532.5 556.5,530.5 557.5,528.5 558.5,530.5 559.5,523.5 560.5,528.5 561.5,528.5 562.5,533.5 562.5,531.5 563.5,530.5 564.5,530.5 565.5,535.5 566.5,530.5 567.5,527.5 568.5,534.5 569.5,528.5 569.5,528.5 570.5,532.5 571.5,520.5 572.5,529.5 573.5,534.5 574.5,528.5 575.5,530.5 576.5,533.5 577.5,530.5 577.5,533.5 578.5,528.5 579.5,532.5 580.5,529.5 581.5,530.5 582.5,534.5 583.5,532.5 584.5,532.5 585.5,532.5 585.5,527.5 586.5,535.5 587.5,533.5 588.5,534.5 589.5,528.5 590.5,533.5 591.5,531.5 592.5,534.5 592.5,525.5 593.5,530.5 594.5,534.5 595.5,528.5 596.5,528.5 597.5,521.5 598.5,534.5 599.5,534.5 600.5,530.5 600.5,527.5 601.5,529.5 602.5,531.5 603.5,528.5 604.5,532.5 605.5,529.5 606.5,528.5 607.5,532.5 608.5,530.5 608.5,533.5 609.5,529.5 610.5,533.5 611.5,528.5 612.5,530.5 613.5,529.5 614.5,529.5 615.5,534.5 616.5,528.5 616.5,528.5 617.5,532.5 618.5,530.5 619.5,532.5 620.5,526.5 621.5,530.5 622.5,527.5 623.5,528.5 623.5,529.5 624.5,534.5 625.5,529.5 626.5,528.5 627.5,534.5 628.5,535.5 629.5,530.5 630.5,530.5 631.5,532.5 631.5,532.5 632.5,531.5 633.5,530.5 634.5,529.5 635.5,532.5 636.5,532.5 637.5,533.5 638.5,533.5 639.5,527.5 639.5,531.5 640.5,534.5 641.5,532.5 642.5,531.5 643.5,530.5 644.5,532.5 645.5,528.5 646.5,533.5 647.5,531.5 647.5,528.5 648.5,533.5 649.5,534.5 650.5,531.5 651.5,528.5 652.5,528.5 653.5,529.5 654.5,533.5 654.5,531.5 655.5,534.5 656.5,530.5 657.5,534.5 658.5,528.5 659.5,529.5 660.5,531.5 661.5,530.5 662.5,533.5 662.5,531.5 663.5,528.5 664.5,526.5 665.5,529.5 666.5,529.5 667.5,528.5 668.5,528.5 669.5,533.5 670.5,528.5 670.5,535.5 671.5,531.5 672.5,528.5 673.5,534.5 674.5,525.5 675.5,528.5 676.5,526.5 677.5,535.5 677.5,529.5 678.5,531.5 679.5,533.5 680.5,533.5 681.5,535.5 682.5,530.5 683.5,535.5 684.5,528.5 685.5,530.5 685.5,528.5 686.5,529.5 687.5,529.5 688.5,528.5 689.5,524.5 690.5,528.5 691.5,529.5 692.5,527.5 693.5,535.5 693.5,535.5 694.5,533.5 695.5,534.5 696.5,529.5 697.5,534.5 698.5,529.5 699.5,530.5 700.5,530.5 701.5,528.5 701.5,533.5 702.5,532.5 703.5,529.5 704.5,532.5 705.5,534.5 706.5,528.5 707.5,529.5 708.5,523.5 708.5,531.5 709.5,529.5 710.5,535.5 711.5,530.5 712.5,529.5 713.5,529.5 714.5,530.5 715.5,533.5 716.5,534.5 716.5,528.5 717.5,533.5 718.5,531.5 719.5,529.5 720.5,529.5 721.5,535.5 722.5,528.5 723.5,528.5 724.5,533.5 724.5,528.5 725.5,528.5 726.5,529.5 727.5,528.5 728.5,534.5 729.5,534.5 730.5,534.5 731.5,532.5 732.5,533.5 732.5,533.5 733.5,533.5 734.5,532.5 735.5,529.5 736.5,534.5 737.5,527.5 738.5,531.5 739.5,530.5 739.5,534.5 740.5,528.5 741.5,535.5 742.5,529.5 743.5,529.5 744.5,531.5 745.5,533.5 746.5,531.5 747.5,533.5 747.5,528.5 748.5,534.5 749.5,524.5 750.5,531.5 751.5,528.5 752.5,535.5 753.5,531.5 754.5,529.5 755.5,533.5 755.5,534.5 756.5,530.5 757.5,531.5 758.5,526.5 759.5,530.5 760.5,534.5 761.5,530.5 762.5,531.5 762.5,529.5 763.5,529.5 764.5,533.5 765.5,532.5 766.5,529.5 767.5,527.5 768.5,534.5 769.5,528.5 770.5,531.5 770.5,530.5 771.5,531.5 772.5,528.5 773.5,532.5 774.5,534.5 775.5,531.5 776.5,530.5 777.5,533.5 778.5,526.5 778.5,533.5 779.5,530.5 780.5,530.5 781.5,534.5 782.5,527.5 783.5,534.5 784.5,529.5 785.5,533.5 786.5,533.5 786.5,532.5 787.5,534.5 788.5,529.5 789.5,525.5 790.5,532.5 791.5,526.5 792.5,530.5 793.5,527.5 793.5,530.5 794.5,528.5 795.5,529.5 796.5,535.5 797.5,533.5 798.5,535.5 799.5,532.5 800.5,530.5 801.5,528.5 801.5,528.5 802.5,534.5 803.5,532.5 804.5,532.5 805.5,534.5 806.5,526.5 807.5,533.5 808.5,529.5 809.5,533.5 809.5,529.5 810.5,530.5 811.5,494.5 812.5,510.5 813.5,530.5 814.5,530.5 815.5,530.5 816.5,534.5 817.5,528.5 817.5,533.5 818.5,533.5 819.5,530.5 820.5,534.5 821.5,529.5 822.5,530.5 823.5,532.5 824.5,529.5 824.5,526.5 825.5,508.5 826.5,533.5 827.5,529.5 828.5,531.5 829.5,535.5 830.5,533.5 831.5,527.5 832.5,534.5 832.5,534.5 833.5,533.5 834.5,529.5 835.5,530.5 836.5,532.5 837.5,533.5 838.5,527.5 839.5,530.5 840.5,526.5 840.5,534.5 841.5,534.5 842.5,526.5 843.5,530.5 844.5,531.5 845.5,535.5 846.5,535.5 847.5,532.5 847.5,528.5 848.5,530.5 849.5,528.5 850.5,523.5 851.5,534.5 852.5,530.5 853.5,530.5 854.5,531.5 855.5,528.5 855.5,528.5 856.5,535.5 857.5,534.5 858.5,531.5 859.5,529.5 860.5,528.5 861.5,528.5 862.5,530.5 863.5,533.5 863.5,533.5 864.5,529.5 865.5,535.5 866.5,529.5 867.5,528.5 868.5,528.5 869.5,534.5 870.5,532.5 871.5,533.5 871.5,532.5 872.5,530.5 873.5,535.5 874.5,532.5 875.5,535.5 876.5,529.5 877.5,529.5 878.5,533.5 878.5,534.5 879.5,529.5 880.5,529.5 881.5,533.5 882.5,530.5 883.5,527.5 884.5,533.5 885.5,535.5 886.5,525.5 886.5,533.5 887.5,528.5 888.5,529.5 889.5,532.5 890.5,532.5 891.5,523.5 892.5,529.5 893.5,530.5 894.5,528.5 894.5,529.5 895.5,531.5 896.5,526.5 897.5,534.5 898.5,531.5 899.5,533.5 900.5,530.5 901.5,494.5 902.5,510.5 902.5,531.5 903.5,535.5 904.5,524.5 905.5,533.5 906.5,529.5 907.5,532.5 908.5,529.5 909.5,529.5 909.5,532.5 910.5,530.5 911.5,533.5 912.5,529.5 913.5,530.5 914.5,534.5 915.5,485.5 916.5,508.5 917.5,529.5 917.5,528.5 918.5,531.5 919.5,531.5 920.5,529.5 921.5,528.5 922.5,534.5 923.5,531.5 924.5,532.5 925.5,529.5 925.5,529.5 926.5,533.5 927.5,528.5 928.5,531.5 929.5,530.5 930.5,534.5 931.5,529.5 932.5,533.5 932.5,534.5 933.5,528.5 934.5,534.5 935.5,533.5 936.5,529.5 937.5,531.5 938.5,527.5 939.5,529.5 940.5,532.5 940.5,533.5 941.5,533.5 942.5,529.5 943.5,534.5 944.5,529.5 945.5,528.5 946.5,534.5 947.5,530.5 948.5,529.5 948.5,527.5 949.5,529.5 950.5,511.5 951.5,529.5 952.5,535.5 953.5,527.5 954.5,529.5 955.5,528.5 956.5,528.5 956.5,531.5 957.5,528.5 958.5,534.5 959.5,529.5 960.5,528.5 961.5,528.5 962.5,527.5 963.5,534.5 963.5,526.5 964.5,533.5 965.5,528.5 966.5,533.5 967.5,529.5 968.5,530.5 969.5,530.5 970.5,529.5 971.5,534.5 971.5,528.5 972.5,529.5 973.5,527.5 974.5,523.5 975.5,528.5 976.5,532.5 977.5,532.5 978.5,527.5 979.5,523.5 979.5,533.5 980.5,528.5 981.5,534.5 982.5,532.5 983.5,523.5 984.5,528.5 985.5,528.5 986.5,532.5 987.5,527.5 987.5,531.5 988.5,535.5 989.5,526.5 990.5,504.5 991.5,535.5 992.5,531.5 993.5,530.5 994.5,527.5 994.5,528.5 995.5,533.5 996.5,527.5 997.5,532.5 998.5,530.5 999.5,534.5 1000.5,532.5 1001.5,534.5 1002.5,530.5 1002.5,530.5 1003.5,531.5 1004.5,508.5 1005.5,528.5 1006.5,535.5 1007.5,530.5 1008.5,526.5 1009.5,531.5 1010.5,533.5 1010.5,529.5 1011.5,528.5 1012.5,529.5 1013.5,535.5 1014.5,528.5 1015.5,530.5 1016.5,530.5 1017.5,528.5 1017.5,534.5 1018.5,533.5 1019.5,533.5 1020.5,529.5 1021.5,528.5 1022.5,529.5 1023.5,532.5 1024.5,534.5 1025.5,534.5 1025.5,533.5 1026.5,528.5 1027.5,533.5 1028.5,531.5 1029.5,527.5 1030.5,529.5 1031.5,511.5 1032.5,533.5 1033.5,533.5 1033.5,530.5 1034.5,529.5 1035.5,531.5 1036.5,533.5 1037.5,526.5 1038.5,529.5 1039.5,525.5 1040.5,530.5 1041.5,533.5 1041.5,529.5 1042.5,530.5 1043.5,534.5 1044.5,533.5 1045.5,533.5 1046.5,529.5 1047.5,521.5 1048.5,532.5 1048.5,533.5 1049.5,529.5 1050.5,529.5 1051.5,535.5 1052.5,528.5 1053.5,530.5 1054.5,527.5 1055.5,533.5 1056.5,532.5 1056.5,531.5 1057.5,533.5 1058.5,535.5 1059.5,532.5 1060.5,530.5 1061.5,531.5 1062.5,531.5 1063.5,533.5 1064.5,525.5 1064.5,524.5 1065.5,529.5 1066.5,528.5 1067.5,534.5 1068.5,532.5 1069.5,527.5 1070.5,530.5 1071.5,531.5 1072.5,530.5 1072.5,532.5 1073.5,534.5 1074.5,532.5 1075.5,525.5 1076.5,530.5 1077.5,532.5 1078.5,527.5 1079.5,528.5 1079.5,533.5 1080.5,533.5 1081.5,535.5 1082.5,534.5 1083.5,535.5 1084.5,532.5 1085.5,528.5 1086.5,531.5 1087.5,528.5 1087.5,529.5 1088.5,530.5 1089.5,531.5 1090.5,530.5 1091.5,528.5 1092.5,513.5 1093.5,528.5 1094.5,533.5 1095.5,485.5 1095.5,533.5 1096.5,534.5 1097.5,533.5 1098.5,529.5 1099.5,532.5 1100.5,532.5 1101.5,534.5 1102.5,527.5 1102.5,531.5 1103.5,534.5 1104.5,531.5 1105.5,535.5 1106.5,527.5 1107.5,533.5 1108.5,529.5 1109.5,533.5 1110.5,527.5 1110.5,529.5 1111.5,534.5 1112.5,528.5 1113.5,528.5 1114.5,535.5 1115.5,529.5 1116.5,533.5 1117.5,529.5 1118.5,535.5 1118.5,534.5 1119.5,534.5 1120.5,534.5 1121.5,526.5 1122.5,530.5 1123.5,529.5 1124.5,529.5 1125.5,530.5 1126.5,530.5 1126.5,534.5 1127.5,528.5 1128.5,533.5 1129.5,533.5 1130.5,532.5 1131.5,531.5 1132.5,534.5 1133.5,530.5 1133.5,530.5 1134.5,532.5 1135.5,529.5 1136.5,529.5 1137.5,521.5 1138.5,529.5 1139.5,534.5 1140.5,528.5 1141.5,530.5 1141.5,523.5 1142.5,530.5 1143.5,525.5 1144.5,529.5 1145.5,531.5 1146.5,531.5 1147.5,533.5 1148.5,533.5 1149.5,529.5 1149.5,534.5 1150.5,528.5 1151.5,535.5 1152.5,528.5 1153.5,533.5 1154.5,533.5 1155.5,532.5 1156.5,529.5 1157.5,524.5 1157.5,533.5 1158.5,529.5 1159.5,531.5 1160.5,532.5 1161.5,531.5 1162.5,529.5 1163.5,533.5 1164.5,532.5 1164.5,535.5 1165.5,533.5 1166.5,527.5 1167.5,526.5 1168.5,532.5 1169.5,528.5 1170.5,534.5 1171.5,528.5 1172.5,525.5 1172.5,528.5 1173.5,533.5 1174.5,528.5 1175.5,529.5 1176.5,530.5 1177.5,527.5 1178.5,529.5 1179.5,530.5 1180.5,535.5 1180.5,531.5 1181.5,532.5 1182.5,532.5 1183.5,534.5 1184.5,530.5 1185.5,494.5 1186.5,512.5 1187.5,528.5 1187.5,531.5 1188.5,532.5 1189.5,532.5 1190.5,529.5 1191.5,526.5 1192.5,524.5 1193.5,534.5 1194.5,534.5 1195.5,531.5 1195.5,534.5 1196.5,533.5 1197.5,531.5 1198.5,533.5 1199.5,532.5 1200.5,530.5 1201.5,527.5 1202.5,524.5 1203.5,530.5 1203.5,528.5 1204.5,531.5 1205.5,527.5 1206.5,528.5 1207.5,531.5 1208.5,535.5 1209.5,534.5 1210.5,524.5 1211.5,528.5 1211.5,530.5 1212.5,528.5 1213.5,533.5 1214.5,529.5 1215.5,533.5 1216.5,527.5 1217.5,528.5 1218.5,528.5 1218.5,534.5 1219.5,534.5 1220.5,534.5 1221.5,528.5 1222.5,529.5 1223.5,531.5 1224.5,535.5 1225.5,534.5 1226.5,528.5 1226.5,530.5 1227.5,532.5 1228.5,526.5 1229.5,530.5 1230.5,533.5 1231.5,531.5 1232.5,532.5 1233.5,534.5 1234.5,529.5 1234.5,530.5 1235.5,533.5 1236.5,528.5 1237.5,527.5 1238.5,530.5 1239.5,523.5 1240.5,528.5 1241.5,526.5 1242.5,534.5 1242.5,524.5 1243.5,530.5 1244.5,533.5 1245.5,530.5 1246.5,531.5 1247.5,532.5 1248.5,530.5 1249.5,528.5 1249.5,528.5 1250.5,531.5 1251.5,527.5 1252.5,534.5 1253.5,532.5 1254.5,532.5 1255.5,530.5 1256.5,534.5 1257.5,532.5 1257.5,534.5 1258.5,526.5 1259.5,528.5 1260.5,494.5 1261.5,512.5 1262.5,530.5 1263.5,530.5 1264.5,534.5 1265.5,533.5 1265.5,530.5 1266.5,535.5 1267.5,534.5 1268.5,533.5 1269.5,533.5 1270.5,528.5 1271.5,528.5 1272.5,532.5 1272.5,534.5 1273.5,533.5 1274.5,533.5 1275.5,533.5 1276.5,529.5 1277.5,529.5 1278.5,533.5 1279.5,527.5 1280.5,531.5 1280.5,535.5 1281.5,532.5 1282.5,531.5 1283.5,529.5 1284.5,528.5 1285.5,530.5 1286.5,530.5 1287.5,532.5 1288.5,530.5 1288.5,527.5 1289.5,531.5 1290.5,528.5 1291.5,534.5 1292.5,523.5 1293.5,534.5 1294.5,531.5 1295.5,531.5 1296.5,523.5 1296.5,532.5 1297.5,528.5 1298.5,528.5 1299.5,526.5 1300.5,530.5 1301.5,531.5 1302.5,532.5 1303.5,530.5 1303.5,529.5 1304.5,534.5 1305.5,528.5 1306.5,533.5 1307.5,535.5 1308.5,529.5 1309.5,531.5 1310.5,511.5 1311.5,529.5 1311.5,533.5 1312.5,529.5 1313.5,530.5 1314.5,528.5 1315.5,534.5 1316.5,530.5 1317.5,521.5 1318.5,530.5 1319.5,530.5 1319.5,528.5 1320.5,529.5 1321.5,535.5 1322.5,532.5 1323.5,533.5 1324.5,535.5 1325.5,534.5 1326.5,527.5 1327.5,535.5 1327.5,532.5 1328.5,530.5 1329.5,533.5 1330.5,530.5 1331.5,529.5 1332.5,528.5 1333.5,529.5 1334.5,532.5 1334.5,534.5 1335.5,529.5 1336.5,528.5 1337.5,528.5 1338.5,525.5 1339.5,530.5 1340.5,529.5 1341.5,534.5 1342.5,525.5 1342.5,527.5 1343.5,526.5 1344.5,530.5 1345.5,523.5 1346.5,528.5 1347.5,529.5 1348.5,528.5 1349.5,528.5 1350.5,506.5 1350.5,528.5 1351.5,528.5 1352.5,531.5 1353.5,528.5 1354.5,532.5 1355.5,529.5 1356.5,528.5 1357.5,527.5 1357.5,535.5 1358.5,529.5 1359.5,527.5 1360.5,520.5 1361.5,529.5 1362.5,527.5 1363.5,530.5 1364.5,494.5 1365.5,529.5 1365.5,534.5 1366.5,510.5 1367.5,528.5 1368.5,532.5 1368.5,535.5 96.5,535.5 97.5,528.5 98.5,528.5 98.5,529.5 99.5,529.5 100.5,529.5 101.5,529.5 102.5,534.5 103.5,526.5 104.5,531.5 105.5,528.5 106.5,534.5 106.5,528.5 107.5,535.5 108.5,534.5 109.5,534.5 110.5,532.5 111.5,528.5 112.5,531.5 113.5,528.5 113.5,535.5 114.5,529.5 115.5,533.5 116.5,528.5 117.5,535.5 118.5,528.5 119.5,535.5 120.5,531.5 121.5,534.5 121.5,534.5 122.5,534.5 123.5,526.5 124.5,528.5 125.5,531.5 126.5,528.5 127.5,529.5 128.5,534.5 129.5,527.5 129.5,533.5 130.5,530.5 131.5,521.5 132.5,532.5 133.5,532.5 134.5,528.5 135.5,528.5 136.5,535.5 137.5,535.5 137.5,528.5 138.5,533.5 139.5,533.5 140.5,534.5 141.5,533.5 142.5,532.5 143.5,528.5 144.5,532.5 144.5,530.5" fill="none" stroke="#009e73" stroke-width="1" stroke-linejoin="miter" stroke-miterlimit="1" shape-rendering="crispEdges"/>
<path d="M200.5,531.5 201.5,530.5 202.5,534.5 203.5,534.5 204.5,535.5 205.5,534.5 206.5,533.5 206.5,532.5 207.5,534.5 208.5,530.5 209.5,530.5 210.5,531.5 211.5,527.5 212.5,530.5 213.5,531.5 214.5,533.5 214.5,533.5 215.5,535.5 216.5,530.5 217.5,527.5 218.5,531.5 219.5,531.5 220.5,535.5 221.5,532.5 222.5,533.5 222.5,533.5 223.5,532.5 224.5,534.5 225.5,533.5 226.5,531.5 227.5,529.5 228.5,530.5 229.5,535.5 229.5,530.5 230.5,535.5 231.5,530.5 232.5,527.5 233.5,530.5 234.5,531.5 235.5,529.5 236.5,531.5 237.5,532.5 237.5,532.5 238.5,531.5 239.5,534.5 240.5,531.5 241.5,534.5 242.5,531.5 243.5,532.5 244.5,533.5 245.5,535.5 245.5,529.5 246.5,534.5 247.5,532.5 248.5,533.5 249.5,530.5 250.5,534.5 251.5,529.5 252.5,533.5 252.5,534.5 253.5,532.5 254.5,527.5 255.5,531.5 256.5,534.5 257.5,533.5 258.5,534.5 259.5,533.5 260.5,533.5 260.5,531.5 261.5,536.5 262.5,534.5 263.5,532.5 264.5,534.5 265.5,535.5 266.5,529.5 267.5,534.5 268.5,533.5 268.5,535.5 269.5,533.5 270.5,523.5 271.5,532.5 272.5,530.5 273.5,530.5 274.5,535.5 275.5,534.5 276.5,529.5 276.5,533.5 277.5,530.5 278.5,531.5 279.5,530.5 280.5,530.5 281.5,532.5 282.5,530.5 283.5,529.5 283.5,532.5 284.5,532.5 285.5,529.5 286.5,535.5 287.5,536.5 288.5,535.5 289.5,530.5 290.5,526.5 291.5,532.5 291.5,531.5 292.5,531.5 293.5,534.5 294.5,528.5 295.5,531.5 296.5,536.5 297.5,534.5 298.5,530.5 299.5,530.5 299.5,533.5 300.5,527.5 301.5,534.5 302.5,530.5 303.5,534.5 304.5,533.5 305.5,532.5 306.5,530.5 307.5,535.5 307.5,534.5 308.5,528.5 309.5,530.5 310.5,531.5 311.5,533.5 312.5,530.5 313.5,529.5 314.5,535.5 314.5,532.5 315.5,529.5 316.5,532.5 317.5,532.5 318.5,533.5 319.5,533.5 320.5,535.5 321.5,533.5 322.5,527.5 322.5,530.5 323.5,526.5 324.5,531.5 325.5,531.5 326.5,534.5 327.5,531.5 328.5,535.5 329.5,532.5 330.5,531.5 330.5,529.5 331.5,532.5 332.5,533.5 333.5,528.5 334.5,529.5 335.5,530.5 336.5,533.5 337.5,533.5 337.5,530.5 338.5,529.5 339.5,533.5 340.5,531.5 341.5,534.5 342.5,534.5 343.5,529.5 344.5,530.5 345.5,534.5 345.5,529.5 346.5,535.5 347.5,533.5 348.5,535.5 349.5,531.5 350.5,534.5 351.5,530.5 352.5,531.5 353.5,530.5 353.5,535.5 354.5,532.5 355.5,532.5 356.5,535.5 357.5,533.5 358.5,534.5 359.5,532.5 360.5,530.5 361.5,531.5 361.5,531.5 362.5,530.5 363.5,529.5 364.5,534.5 365.5,535.5 366.5,535.5 367.5,532.5 368.5,531.5 368.5,534.5 369.5,536.5 370.5,529.5 371.5,530.5 372.5,533.5 373.5,535.5 374.5,532.5 375.5,535.5 376.5,530.5 376.5,531.5 377.5,535.5 378.5,532.5 379.5,530.5 380.5,532.5 381.5,532.5 382.5,530.5 383.5,533.5 384.5,531.5 384.5,533.5 385.5,532.5 386.5,530.5 387.5,532.5 388.5,533.5 389.5,531.5 390.5,531.5 391.5,528.5 392.5,534.5 392.5,533.5 393.5,530.5 394.5,533.5 395.5,533.5 396.5,535.5 397.5,533.5 398.5,535.5 399.5,530.5 399.5,532.5 400.5,535.5 401.5,533.5 402.5,532.5 403.5,530.5 404.5,529.5 405.5,529.5 406.5,533.5 407.5,528.5 407.5,535.5 408.5,532.5 409.5,535.5 410.5,530.5 411.5,528.5 412.5,530.5 413.5,531.5 414.5,529.5 415.5,530.5 415.5,536.5 416.5,534.5 417.5,529.5 418.5,532.5 419.5,534.5 420.5,535.5 421.5,535.5 422.5,535.5 422.5,535.5 423.5,532.5 424.5,530.5 425.5,529.5 426.5,532.5 427.5,535.5 428.5,534.5 429.5,531.5 430.5,532.5 430.5,531.5 431.5,535.5 432.5,534.5 433.5,533.5 434.5,535.5 435.5,534.5 436.5,530.5 437.5,531.5 438.5,534.5 438.5,532.5 439.5,532.5 440.5,531.5 441.5,533.5 442.5,533.5 443.5,534.5 444.5,530.5 445.5,535.5 446.5,529.5 446.5,532.5 447.5,530.5 448.5,532.5 449.5,528.5 450.5,533.5 451.5,529.5 452.5,531.5 453.5,530.5 453.5,530.5 454.5,528.5 455.5,529.5 456.5,535.5 457.5,531.5 458.5,530.5 459.5,534.5 460.5,532.5 461.5,535.5 461.5,529.5 462.5,531.5 463.5,535.5 464.5,534.5 465.5,532.5 466.5,536.5 467.5,530.5 468.5,534.5 469.5,531.5 469.5,533.5 470.5,529.5 471.5,530.5 472.5,531.5 473.5,531.5 474.5,530.5 475.5,534.5 476.5,529.5 477.5,534.5 477.5,530.5 478.5,530.5 479.5,536.5 480.5,534.5 481.5,523.5 482.5,531.5 483.5,535.5 484.5,529.5 484.5,532.5 485.5,533.5 486.5,530.5 487.5,530.5 488.5,534.5 489.5,535.5 490.5,531.5 491.5,534.5 492.5,535.5 492.5,529.5 493.5,533.5 494.5,533.5 495.5,535.5 496.5,531.5 497.5,535.5 498.5,530.5 499.5,530.5 500.5,532.5 500.5,532.5 501.5,532.5 502.5,529.5 503.5,530.5 504.5,526.5 505.5,529.5 506.5,535.5 507.5,533.5 507.5,532.5 508.5,532.5 509.5,528.5 510.5,533.5 511.5,534.5 512.5,529.5 513.5,534.5 514.5,530.5 515.5,535.5 515.5,535.5 516.5,534.5 517.5,530.5 518.5,534.5 519.5,536.5 520.5,532.5 521.5,533.5 522.5,536.5 523.5,535.5 523.5,535.5 524.5,536.5 525.5,535.5 526.5,531.5 527.5,523.5 528.5,532.5 529.5,535.5 530.5,532.5 531.5,531.5 531.5,534.5 532.5,528.5 533.5,530.5 534.5,532.5 535.5,530.5 536.5,533.5 537.5,531.5 538.5,532.5 538.5,528.5 539.5,534.5 540.5,535.5 541.5,528.5 542.5,534.5 543.5,530.5 544.5,531.5 545.5,533.5 546.5,529.5 546.5,535.5 547.5,532.5 548.5,524.5 549.5,534.5 550.5,525.5 551.5,533.5 552.5,534.5 553.5,531.5 554.5,532.5 554.5,533.5 555.5,530.5 556.5,530.5 557.5,528.5 558.5,534.5 559.5,532.5 560.5,531.5 561.5,533.5 562.5,525.5 562.5,531.5 563.5,528.5 564.5,535.5 565.5,533.5 566.5,535.5 567.5,529.5 568.5,532.5 569.5,534.5 569.5,534.5 570.5,535.5 571.5,530.5 572.5,530.5 573.5,529.5 574.5,534.5 575.5,532.5 576.5,531.5 577.5,529.5 577.5,531.5 578.5,529.5 579.5,530.5 580.5,534.5 581.5,535.5 582.5,533.5 583.5,533.5 584.5,535.5 585.5,529.5 585.5,535.5 586.5,535.5 587.5,529.5 588.5,535.5 589.5,532.5 590.5,529.5 591.5,533.5 592.5,532.5 592.5,532.5 593.5,534.5 594.5,529.5 595.5,531.5 596.5,535.5 597.5,532.5 598.5,527.5 599.5,530.5 600.5,533.5 600.5,530.5 601.5,532.5 602.5,530.5 603.5,534.5 604.5,531.5 605.5,533.5 606.5,534.5 607.5,535.5 608.5,532.5 608.5,528.5 609.5,531.5 610.5,533.5 611.5,535.5 612.5,527.5 613.5,531.5 614.5,535.5 615.5,533.5 616.5,530.5 616.5,533.5 617.5,530.5 618.5,532.5 619.5,525.5 620.5,529.5 621.5,532.5 622.5,529.5 623.5,535.5 623.5,528.5 624.5,533.5 625.5,536.5 626.5,534.5 627.5,529.5 628.5,529.5 629.5,535.5 630.5,535.5 631.5,530.5 631.5,530.5 632.5,535.5 633.5,531.5 634.5,532.5 635.5,532.5 636.5,533.5 637.5,535.5 638.5,530.5 639.5,531.5 639.5,530.5 640.5,530.5 641.5,530.5 642.5,530.5 643.5,534.5 644.5,530.5 645.5,531.5 646.5,527.5 647.5,528.5 647.5,529.5 648.5,532.5 649.5,532.5 650.5,529.5 651.5,527.5 652.5,529.5 653.5,530.5 654.5,529.5 654.5,534.5 655.5,533.5 656.5,529.5 657.5,532.5 658.5,529.5 659.5,529.5 660.5,528.5 661.5,530.5 662.5,533.5 662.5,533.5 663.5,534.5 664.5,536.5 665.5,533.5 666.5,531.5 667.5,534.5 668.5,534.5 669.5,532.5 670.5,532.5 670.5,523.5 671.5,529.5 672.5,533.5 673.5,529.5 674.5,532.5 675.5,532.5 676.5,534.5 677.5,535.5 677.5,534.5 678.5,529.5 679.5,531.5 680.5,530.5 681.5,535.5 682.5,532.5 683.5,532.5 684.5,530.5 685.5,535.5 685.5,530.5 686.5,535.5 687.5,529.5 688.5,529.5 689.5,535.5 690.5,535.5 691.5,535.5 692.5,534.5 693.5,529.5 693.5,529.5 694.5,534.5 695.5,530.5 696.5,535.5 697.5,534.5 698.5,530.5 699.5,529.5 700.5,534.5 701.5,529.5 701.5,531.5 702.5,533.5 703.5,530.5 704.5,530.5 705.5,528.5 706.5,535.5 707.5,534.5 708.5,532.5 708.5,531.5 709.5,531.5 710.5,530.5 711.5,530.5 712.5,530.5 713.5,530.5 714.5,532.5 715.5,535.5 716.5,535.5 716.5,535.5 717.5,533.5 718.5,531.5 719.5,530.5 720.5,534.5 721.5,532.5 722.5,530.5 723.5,531.5 724.5,535.5 724.5,533.5 725.5,532.5 726.5,534.5 727.5,535.5 728.5,530.5 729.5,534.5 730.5,535.5 731.5,534.5 732.5,532.5 732.5,535.5 733.5,531.5 734.5,529.5 735.5,530.5 736.5,532.5 737.5,530.5 738.5,535.5 739.5,530.5 739.5,532.5 740.5,533.5 741.5,531.5 742.5,533.5 743.5,530.5 744.5,534.5 745.5,533.5 746.5,529.5 747.5,534.5 747.5,528.5 748.5,526.5 749.5,535.5 750.5,536.5 751.5,534.5 752.5,529.5 753.5,536.5 754.5,531.5 755.5,532.5 755.5,531.5 756.5,531.5 757.5,532.5 758.5,530.5 759.5,535.5 760.5,531.5 761.5,531.5 762.5,527.5 762.5,530.5 763.5,535.5 764.5,532.5 765.5,531.5 766.5,533.5 767.5,532.5 768.5,532.5 769.5,530.5 770.5,529.5 770.5,532.5 771.5,534.5 772.5,529.5 773.5,533.5 774.5,531.5 775.5,531.5 776.5,529.5 777.5,531.5 778.5,532.5 778.5,533.5 779.5,528.5 780.5,529.5 781.5,530.5 782.5,530.5 783.5,535.5 784.5,534.5 785.5,532.5 786.5,533.5 786.5,529.5 787.5,534.5 788.5,535.5 789.5,530.5 790.5,533.5 791.5,531.5 792.5,534.5 793.5,532.5 793.5,535.5 794.5,532.5 795.5,535.5 796.5,528.5 797.5,530.5 798.5,535.5 799.5,531.5 800.5,532.5 801.5,533.5 801.5,535.5 802.5,533.5 803.5,533.5 804.5,530.5 805.5,526.5 806.5,529.5 807.5,536.5 808.5,533.5 809.5,529.5 809.5,535.5 810.5,530.5 811.5,531.5 812.5,531.5 813.5,534.5 814.5,532.5 815.5,531.5 816.5,530.5 817.5,533.5 817.5,531.5 818.5,533.5 819.5,529.5 820.5,531.5 821.5,531.5 822.5,531.5 823.5,534.5 824.5,533.5 824.5,532.5 825.5,529.5 826.5,532.5 827.5,531.5 828.5,529.5 829.5,529.5 830.5,532.5 831.5,532.5 832.5,533.5 832.5,526.5 833.5,534.5 834.5,530.5 835.5,532.5 836.5,530.5 837.5,533.5 838.5,534.5 839.5,533.5 840.5,528.5 840.5,526.5 841.5,532.5 842.5,535.5 843.5,526.5 844.5,528.5 845.5,531.5 846.5,534.5 847.5,533.5 847.5,529.5 848.5,529.5 849.5,530.5 850.5,531.5 851.5,531.5 852.5,533.5 853.5,529.5 854.5,534.5 855.5,527.5 855.5,533.5 856.5,533.5 857.5,533.5 858.5,529.5 859.5,534.5 860.5,535.5 861.5,530.5 862.5,535.5 863.5,535.5 863.5,530.5 864.5,531.5 865.5,529.5 866.5,529.5 867.5,532.5 868.5,530.5 869.5,531.5 870.5,531.5 871.5,533.5 871.5,529.5 872.5,530.5 873.5,534.5 874.5,531.5 875.5,533.5 876.5,529.5 877.5,535.5 878.5,533.5 878.5,535.5 879.5,534.5 880.5,533.5 881.5,530.5 882.5,533.5 883.5,534.5 884.5,533.5 885.5,530.5 886.5,534.5 886.5,535.5 887.5,533.5 888.5,534.5 889.5,535.5 890.5,535.5 891.5,535.5 892.5,534.5 893.5,533.5 894.5,534.5 894.5,531.5 895.5,527.5 896.5,532.5 897.5,530.5 898.5,533.5 899.5,532.5 900.5,529.5 901.5,531.5 902.5,530.5 902.5,530.5 903.5,530.5 904.5,530.5 905.5,534.5 906.5,529.5 907.5,533.5 908.5,534.5 909.5,531.5 909.5,532.5 910.5,535.5 911.5,533.5 912.5,530.5 913.5,534.5 914.5,531.5 915.5,535.5 916.5,530.5 917.5,527.5 917.5,529.5 918.5,530.5 919.5,532.5 920.5,532.5 921.5,529.5 922.5,532.5 923.5,534.5 924.5,534.5 925.5,532.5 925.5,530.5 926.5,534.5 927.5,527.5 928.5,532.5 929.5,534.5 930.5,536.5 931.5,532.5 932.5,530.5 932.5,531.5 933.5,533.5 934.5,535.5 935.5,528.5 936.5,531.5 937.5,534.5 938.5,529.5 939.5,530.5 940.5,529.5 940.5,527.5 941.5,530.5 942.5,533.5 943.5,532.5 944.5,532.5 945.5,530.5 946.5,532.5 947.5,535.5 948.5,533.5 948.5,530.5 949.5,532.5 950.5,533.5 951.5,532.5 952.5,533.5 953.5,528.5 954.5,531.5 955.5,506.5 956.5,533.5 956.5,535.5 957.5,531.5 958.5,530.5 959.5,531.5 960.5,531.5 961.5,529.5 962.5,535.5 963.5,534.5 963.5,535.5 964.5,535.5 965.5,529.5 966.5,531.5 967.5,533.5 968.5,535.5 969.5,530.5 970.5,535.5 971.5,535.5 971.5,530.5 972.5,529.5 973.5,529.5 974.5,529.5 975.5,531.5 976.5,534.5 977.5,533.5 978.5,530.5 979.5,530.5 979.5,534.5 980.5,524.5 981.5,530.5 982.5,534.5 983.5,531.5 984.5,534.5 985.5,531.5 986.5,535.5 987.5,529.5 987.5,527.5 988.5,534.5 989.5,535.5 990.5,529.5 991.5,530.5 992.5,534.5 993.5,530.5 994.5,533.5 994.5,532.5 995.5,533.5 996.5,523.5 997.5,530.5 998.5,530.5 999.5,531.5 1000.5,531.5 1001.5,531.5 1002.5,534.5 1002.5,531.5 1003.5,526.5 1004.5,533.5 1005.5,534.5 1006.5,530.5 1007.5,535.5 1008.5,535.5 1009.5,535.5 1010.5,533.5 1010.5,533.5 1011.5,531.5 1012.5,532.5 1013.5,532.5 1014.5,532.5 1015.5,528.5 1016.5,533.5 1017.5,530.5 1017.5,531.5 1018.5,534.5 1019.5,530.5 1020.5,528.5 1021.5,534.5 1022.5,534.5 1023.5,531.5 1024.5,529.5 1025.5,530.5 1025.5,535.5 1026.5,534.5 1027.5,534.5 1028.5,531.5 1029.5,534.5 1030.5,531.5 1031.5,529.5 1032.5,532.5 1033.5,533.5 1033.5,533.5 1034.5,533.5 1035.5,532.5 1036.5,525.5 1037.5,534.5 1038.5,530.5 1039.5,533.5 1040.5,535.5 1041.5,526.5 1041.5,531.5 1042.5,535.5 1043.5,534.5 1044.5,530.5 1045.5,532.5 1046.5,529.5 1047.5,530.5 1048.5,534.5 1048.5,531.5 1049.5,529.5 1050.5,530.5 1051.5,529.5 1052.5,535.5 1053.5,531.5 1054.5,529.5 1055.5,536.5 1056.5,533.5 1056.5,532.5 1057.5,532.5 1058.5,535.5 1059.5,535.5 1060.5,532.5 1061.5,531.5 1062.5,532.5 1063.5,528.5 1064.5,534.5 1064.5,533.5 1065.5,533.5 1066.5,533.5 1067.5,532.5 1068.5,534.5 1069.5,531.5 1070.5,530.5 1071.5,535.5 1072.5,535.5 1072.5,527.5 1073.5,532.5 1074.5,528.5 1075.5,534.5 1076.5,532.5 1077.5,532.5 1078.5,531.5 1079.5,535.5 1079.5,536.5 1080.5,532.5 1081.5,536.5 1082.5,532.5 1083.5,531.5 1084.5,534.5 1085.5,536.5 1086.5,529.5 1087.5,530.5 1087.5,532.5 1088.5,533.5 1089.5,531.5 1090.5,535.5 1091.5,532.5 1092.5,531.5 1093.5,528.5 1094.5,530.5 1095.5,535.5 1095.5,530.5 1096.5,534.5 1097.5,531.5 1098.5,534.5 1099.5,531.5 1100.5,531.5 1101.5,533.5 1102.5,528.5 1102.5,536.5 1103.5,532.5 1104.5,530.5 1105.5,535.5 1106.5,532.5 1107.5,530.5 1108.5,535.5 1109.5,535.5 1110.5,533.5 1110.5,532.5 1111.5,529.5 1112.5,534.5 1113.5,530.5 1114.5,533.5 1115.5,525.5 1116.5,533.5 1117.5,531.5 1118.5,525.5 1118.5,529.5 1119.5,533.5 1120.5,530.5 1121.5,532.5 1122.5,532.5 1123.5,533.5 1124.5,530.5 1125.5,532.5 1126.5,523.5 1126.5,530.5 1127.5,531.5 1128.5,530.5 1129.5,533.5 1130.5,530.5 1131.5,530.5 1132.5,534.5 1133.5,531.5 1133.5,536.5 1134.5,533.5 1135.5,532.5 1136.5,529.5 1137.5,523.5 1138.5,532.5 1139.5,529.5 1140.5,530.5 1141.5,535.5 1141.5,533.5 1142.5,535.5 1143.5,534.5 1144.5,530.5 1145.5,533.5 1146.5,535.5 1147.5,530.5 1148.5,535.5 1149.5,531.5 1149.5,531.5 1150.5,529.5 1151.5,534.5 1152.5,530.5 1153.5,531.5 1154.5,531.5 1155.5,530.5 1156.5,531.5 1157.5,527.5 1157.5,530.5 1158.5,530.5 1159.5,536.5 1160.5,532.5 1161.5,535.5 1162.5,529.5 1163.5,534.5 1164.5,530.5 1164.5,532.5 1165.5,534.5 1166.5,529.5 1167.5,533.5 1168.5,531.5 1169.5,523.5 1170.5,531.5 1171.5,534.5 1172.5,531.5 1172.5,532.5 1173.5,534.5 1174.5,527.5 1175.5,535.5 1176.5,534.5 1177.5,531.5 1178.5,531.5 1179.5,527.5 1180.5,531.5 1180.5,528.5 1181.5,532.5 1182.5,531.5 1183.5,530.5 1184.5,531.5 1185.5,530.5 1186.5,530.5 1187.5,533.5 1187.5,531.5 1188.5,531.5 1189.5,531.5 1190.5,529.5 1191.5,530.5 1192.5,532.5 1193.5,529.5 1194.5,530.5 1195.5,530.5 1195.5,534.5 1196.5,532.5 1197.5,532.5 1198.5,533.5 1199.5,530.5 1200.5,535.5 1201.5,525.5 1202.5,534.5 1203.5,530.5 1203.5,532.5 1204.5,529.5 1205.5,533.5 1206.5,534.5 1207.5,529.5 1208.5,532.5 1209.5,533.5 1210.5,531.5 1211.5,536.5 1211.5,535.5 1212.5,529.5 1213.5,529.5 1214.5,531.5 1215.5,533.5 1216.5,536.5 1217.5,529.5 1218.5,535.5 1218.5,533.5 1219.5,530.5 1220.5,535.5 1221.5,532.5 1222.5,533.5 1223.5,527.5 1224.5,531.5 1225.5,532.5 1226.5,533.5 1226.5,534.5 1227.5,535.5 1228.5,533.5 1229.5,529.5 1230.5,532.5 1231.5,535.5 1232.5,531.5 1233.5,535.5 1234.5,533.5 1234.5,531.5 1235.5,530.5 1236.5,529.5 1237.5,530.5 1238.5,533.5 1239.5,536.5 1240.5,530.5 1241.5,531.5 1242.5,536.5 1242.5,534.5 1243.5,530.5 1244.5,535.5 1245.5,532.5 1246.5,533.5 1247.5,531.5 1248.5,529.5 1249.5,535.5 1249.5,535.5 1250.5,534.5 1251.5,531.5 1252.5,533.5 1253.5,531.5 1254.5,529.5 1255.5,529.5 1256.5,531.5 1257.5,535.5 1257.5,533.5 1258.5,532.5 1259.5,529.5 1260.5,530.5 1261.5,535.5 1262.5,524.5 1263.5,530.5 1264.5,532.5 1265.5,529.5 1265.5,535.5 1266.5,536.5 1267.5,534.5 1268.5,529.5 1269.5,534.5 1270.5,535.5 1271.5,529.5 1272.5,535.5 1272.5,529.5 1273.5,533.5 1274.5,533.5 1275.5,533.5 1276.5,533.5 1277.5,530.5 1278.5,535.5 1279.5,525.5 1280.5,535.5 1280.5,529.5 1281.5,535.5 1282.5,529.5 1283.5,532.5 1284.5,532.5 1285.5,533.5 1286.5,533.5 1287.5,530.5 1288.5,529.5 1288.5,532.5 1289.5,528.5 1290.5,533.5 1291.5,529.5 1292.5,530.5 1293.5,534.5 1294.5,532.5 1295.5,530.5 1296.5,530.5 1296.5,533.5 1297.5,536.5 1298.5,534.5 1299.5,532.5 1300.5,535.5 1301.5,520.5 1302.5,532.5 1303.5,535.5 1303.5,530.5 1304.5,531.5 1305.5,533.5 1306.5,534.5 1307.5,532.5 1308.5,535.5 1309.5,531.5 1310.5,533.5 1311.5,535.5 1311.5,532.5 1312.5,534.5 1313.5,529.5 1314.5,534.5 1315.5,529.5 1316.5,533.5 1317.5,533.5 1318.5,532.5 1319.5,534.5 1319.5,534.5 1320.5,531.5 1321.5,531.5 1322.5,530.5 1323.5,532.5 1324.5,531.5 1325.5,529.5 1326.5,531.5 1327.5,531.5 1327.5,528.5 1328.5,533.5 1329.5,534.5 1330.5,535.5 1331.5,532.5 1332.5,533.5 1333.5,532.5 1334.5,535.5 1334.5,533.5 1335.5,530.5 1336.5,534.5 1337.5,534.5 1338.5,529.5 1339.5,535.5 1340.5,534.5 1341.5,532.5 1342.5,530.5 1342.5,535.5 1343.5,530.5 1344.5,528.5 1345.5,527.5 1346.5,523.5 1347.5,535.5 1348.5,534.5 1349.5,531.5 1350.5,533.5 1350.5,532.5 1351.5,535.5 1352.5,530.5 1353.5,533.5 1354.5,531.5 1355.5,532.5 1356.5,530.5 1357.5,535.5 1357.5,528.5 1358.5,534.5 1359.5,529.5 1360.5,533.5 1361.5,530.5 1362.5,529.5 1363.5,531.5 1364.5,528.5 1365.5,528.5 1365.5,533.5 1366.5,530.5 1367.5,530.5 1368.5,535.5 1368.5,533.5 96.5,530.5 97.5,535.5 98.5,532.5 98.5,529.5 99.5,533.5 100.5,533.5 101.5,529.5 102.5,536.5 103.5,535.5 104.5,531.5 105.5,530.5 106.5,534.5 106.5,531.5 107.5,530.5 108.5,535.5 109.5,535.5 110.5,531.5 111.5,535.5 112.5,529.5 113.5,529.5 113.5,534.5 114.5,536.5 115.5,532.5 116.5,534.5 117.5,529.5 118.5,529.5 119.5,534.5 120.5,512.5 121.5,525.5 121.5,531.5 122.5,533.5 123.5,531.5 124.5,531.5 125.5,531.5 126.5,532.5 127.5,532.5 128.5,533.5 129.5,536.5 129.5,530.5 130.5,534.5 131.5,531.5 132.5,534.5 133.5,535.5 134.5,532.5 135.5,531.5 136.5,528.5 137.5,534.5 137.5,534.5 138.5,529.5 139.5,531.5 140.5,532.5 141.5,527.5 142.5,530.5 143.5,534.5 144.5,530.5 144.5,526.5" fill="none" stroke="#56b4e9" stroke-width="1" stroke-linejoin="miter" stroke-miterlimit="1" shape-rendering="crispEdges"/>
</g>
<g id="points">
<rect x="194.5" y="427.5" width="12" height="12" fill="none" stroke="#e69f00" stroke-width="1" shape-rendering="crispEdges"/>
<rect x="194.5" y="481.5" width="12" height="12" fill="#f0e442" stroke="#f0e442" stroke-width="1" shape-rendering="crispEdges"/>
<path d="M93.5 497.5h6l2 2v6l-2 2h-6l-2 -2v-6zM99.0 498.0l2 2M99.0 507.0l2 -2M94.0 498.0l-2 2M94.0 507.0l-2 -2" fill="none" stroke="#0072b2" stroke-width="1.25" shape-rendering="crispEdges"/><path d="M90.0 502.5h1M102.0 502.5h1M96.5 496.0v1M96.5 508.0v1" stroke="#0072b2" stroke-width="1" fill="none" shape-rendering="crispEdges"/>
<path d="M140.5 493.5h6l2 2v6l-2 2h-6l-2 -2v-6zM146.0 494.0l2 2M146.0 503.0l2 -2M141.0 494.0l-2 2M141.0 503.0l-2 -2" fill="none" stroke="#0072b2" stroke-width="1.25" shape-rendering="crispEdges"/><path d="M137.0 498.5h1M149.0 498.5h1M143.5 492.0v1M143.5 504.0v1" stroke="#0072b2" stroke-width="1" fill="none" shape-rendering="crispEdges"/>
<path d="M199.5 494.5h6l2 2v6l-2 2h-6l-2 -2v-6zM205.0 495.0l2 2M205.0 504.0l2 -2M200.0 495.0l-2 2M200.0 504.0l-2 -2" fill="none" stroke="#0072b2" stroke-width="1.25" shape-rendering="crispEdges"/><path d="M196.0 499.5h1M208.0 499.5h1M202.5 493.0v1M202.5 505.0v1" stroke="#0072b2" stroke-width="1" fill="none" shape-rendering="crispEdges"/>
<path d="M246.5 501.5h6l2 2v6l-2 2h-6l-2 -2v-6zM252.0 502.0l2 2M252.0 511.0l2 -2M247.0 502.0l-2 2M247.0 511.0l-2 -2" fill="none" stroke="#0072b2" stroke-width="1.25" shape-rendering="crispEdges"/><path d="M243.0 506.5h1M255.0 506.5h1M249.5 500.0v1M249.5 512.0v1" stroke="#0072b2" stroke-width="1" fill="none" shape-rendering="crispEdges"/>
<path d="M252.5 502.5h6l2 2v6l-2 2h-6l-2 -2v-6zM258.0 503.0l2 2M258.0 512.0l2 -2M253.0 503.0l-2 2M253.0 512.0l-2 -2" fill="none" stroke="#0072b2" stroke-width="1.25" shape-rendering="crispEdges"/><path d="M249.0 507.5h1M261.0 507.5h1M255.5 501.0v1M255.5 513.0v1" stroke="#0072b2" stroke-width="1" fill="none" shape-rendering="crispEdges"/>
<path d="M299.5 493.5h6l2 2v6l-2 2h-6l-2 -2v-6zM305.0 494.0l2 2M305.0 503.0l2 -2M300.0 494.0l-2 2M300.0 503.0l-2 -2" fill="none" stroke="#0072b2" stroke-width="1.25" shape-rendering="crispEdges"/><path d="M296.0 498.5h1M308.0 498.5h1M302.5 492.0v1M302.5 504.0v1" stroke="#0072b2" stroke-width="1" fill="none" shape-rendering="crispEdges"/>
<path d="M305.5 492.5h6l2 2v6l-2 2h-6l-2 -2v-6zM311.0 493.0l2 2M311.0 502.0l2 -2M306.0 493.0l-2 2M306.0 502.0l-2 -2" fill="none" stroke="#0072b2" stroke-width="1.25" shape-rendering="crispEdges"/><path d="M302.0 497.5h1M314.0 497.5h1M308.5 491.0v1M308.5 503.0v1" stroke="#0072b2" stroke-width="1" fill="none" shape-rendering="crispEdges"/>
<path d="M352.5 493.5h6l2 2v6l-2 2h-6l-2 -2v-6zM358.0 494.0l2 2M358.0 503.0l2 -2M353.0 494.0l-2 2M353.0 503.0l-2 -2" fill="none" stroke="#0072b2" stroke-width="1.25" shape-rendering="crispEdges"/><path d="M349.0 498.5h1M361.0 498.5h1M355.5 492.0v1M355.5 504.0v1" stroke="#0072b2" stroke-width="1" fill="none" shape-rendering="crispEdges"/>
<path d="M358.5 494.5h6l2 2v6l-2 2h-6l-2 -2v-6zM364.0 495.0l2 2M364.0 504.0l2 -2M359.0 495.0l-2 2M359.0 504.0l-2 -2" fill="none" stroke="#0072b2" stroke-width="1.25" shape-rendering="crispEdges"/><path d="M355.0 499.5h1M367.0 499.5h1M361.5 493.0v1M361.5 505.0v1" stroke="#0072b2" stroke-width="1" fill="none" shape-rendering="crispEdges"/>
<path d="M405.5 500.5h6l2 2v6l-2 2h-6l-2 -2v-6zM411.0 501.0l2 2M411.0 510.0l2 -2M406.0 501.0l-2 2M406.0 510.0l-2 -2" fill="none" stroke="#0072b2" stroke-width="1.25" shape-rendering="crispEdges"/><path d="M402.0 505.5h1M414.0 505.5h1M408.5 499.0v1M408.5 511.0v1" stroke="#0072b2" stroke-width="1" fill="none" shape-rendering="crispEdges"/>
<path d="M412.5 497.5h6l2 2v6l-2 2h-6l-2 -2v-6zM418.0 498.0l2 2M418.0 507.0l2 -2M413.0 498.0l-2 2M413.0 507.0l-2 -2" fill="none" stroke="#0072b2" stroke-width="1.25" shape-rendering="crispEdges"/><path d="M409.0 502.5h1M421.0 502.5h1M415.5 496.0v1M415.5 508.0v1" stroke="#0072b2" stroke-width="1" fill="none" shape-rendering="crispEdges"/>
<path d="M458.5 491.5h6l2 2v6l-2 2h-6l-2 -2v-6zM464.0 492.0l2 2M464.0 501.0l2 -2M459.0 492.0l-2 2M459.0 501.0l-2 -2" fill="none" stroke="#0072b2" stroke-width="1.25" shape-rendering="crispEdges"/><path d="M455.0 496.5h1M467.0 496.5h1M461.5 490.0v1M461.5 502.0v1" stroke="#0072b2" stroke-width="1" fill="none" shape-rendering="crispEdges"/>
<path d="M465.5 500.5h6l2 2v6l-2 2h-6l-2 -2v-6zM471.0 501.0l2 2M471.0 510.0l2 -2M466.0 501.0l-2 2M466.0 510.0l-2 -2" fill="none" stroke="#0072b2" stroke-width="1.25" shape-rendering="crispEdges"/><path d="M462.0 505.5h1M474.0 505.5h1M468.5 499.0v1M468.5 511.0v1" stroke="#0072b2" stroke-width="1" fill="none" shape-rendering="crispEdges"/>
<path d="M512.5 501.5h6l2 2v6l-2 2h-6l-2 -2v-6zM518.0 502.0l2 2M518.0 511.0l2 -2M513.0 502.0l-2 2M513.0 511.0l-2 -2" fill="none" stroke="#0072b2" stroke-width="1.25" shape-rendering="crispEdges"/><path d="M509.0 506.5h1M521.0 506.5h1M515.5 500.0v1M515.5 512.0v1" stroke="#0072b2" stroke-width="1" fill="none" shape-rendering="crispEdges"/>
<path d="M518.5 493.5h6l2 2v6l-2 2h-6l-2 -2v-6zM524.0 494.0l2 2M524.0 503.0l2 -2M519.0 494.0l-2 2M519.0 503.0l-2 -2" fill="none" stroke="#0072b2" stroke-width="1.25" shape-rendering="crispEdges"/><path d="M515.0 498.5h1M527.0 498.5h1M521.5 492.0v1M521.5 504.0v1" stroke="#0072b2" stroke-width="1" fill="none" shape-rendering="crispEdges"/>
<path d="M565.5 494.5h6l2 2v6l-2 2h-6l-2 -2v-6zM571.0 495.0l2 2M571.0 504.0l2 -2M566.0 495.0l-2 2M566.0 504.0l-2 -2" fill="none" stroke="#0072b2" stroke-width="1.25" shape-rendering="crispEdges"/><path d="M562.0 499.5h1M574.0 499.5h1M568.5 493.0v1M568.5 505.0v1" stroke="#0072b2" stroke-width="1" fill="none" shape-rendering="crispEdges"/>
<path d="M571.5 501.5h6l2 2v6l-2 2h-6l-2 -2v-6zM577.0 502.0l2 2M577.0 511.0l2 -2M572.0 502.0l-2 2M572.0 511.0l-2 -2" fill="none" stroke="#0072b2" stroke-width="1.25" shape-rendering="crispEdges"/><path d="M568.0 506.5h1M580.0 506.5h1M574.5 500.0v1M574.5 512.0v1" stroke="#0072b2" stroke-width="1" fill="none" shape-rendering="crispEdges"/>
<path d="M618.5 500.5h6l2 2v6l-2 2h-6l-2 -2v-6zM624.0 501.0l2 2M624.0 510.0l2 -2M619.0 501.0l-2 2M619.0 510.0l-2 -2" fill="none" stroke="#0072b2" stroke-width="1.25" shape-rendering="crispEdges"/><path d="M615.0 505.5h1M627.0 505.5h1M621.5 499.0v1M621.5 511.0v1" stroke="#0072b2" stroke-width="1" fill="none" shape-rendering="crispEdges"/>
<path d="M624.5 498.5h6l2 2v6l-2 2h-6l-2 -2v-6zM630.0 499.0l2 2M630.0 508.0l2 -2M625.0 499.0l-2 2M625.0 508.0l-2 -2" fill="none" stroke="#0072b2" stroke-width="1.25" shape-rendering="crispEdges"/><path d="M621.0 503.5h1M633.0 503.5h1M627.5 497.0v1M627.5 509.0v1" stroke="#0072b2" stroke-width="1" fill="none" shape-rendering="crispEdges"/>
<path d="M671.5 492.5h6l2 2v6l-2 2h-6l-2 -2v-6zM677.0 493.0l2 2M677.0 502.0l2 -2M672.0 493.0l-2 2M672.0 502.0l-2 -2" fill="none" stroke="#0072b2" stroke-width="1.25" shape-rendering="crispEdges"/><path d="M668.0 497.5h1M680.0 497.5h1M674.5 491.0v1M674.5 503.0v1" stroke="#0072b2" stroke-width="1" fill="none" shape-rendering="crispEdges"/>
<path d="M677.5 491.5h6l2 2v6l-2 2h-6l-2 -2v-6zM683.0 492.0l2 2M683.0 501.0l2 -2M678.0 492.0l-2 2M678.0 501.0l-2 -2" fill="none" stroke="#0072b2" stroke-width="1.25" shape-rendering="crispEdges"/><path d="M674.0 496.5h1M686.0 496.5h1M680.5 490.0v1M680.5 502.0v1" stroke="#0072b2" stroke-width="1" fill="none" shape-rendering="crispEdges"/>
<path d="M724.5 489.5h6l2 2v6l-2 2h-6l-2 -2v-6zM730.0 490.0l2 2M730.0 499.0l2 -2M725.0 490.0l-2 2M725.0 499.0l-2 -2" fill="none" stroke="#0072b2" stroke-width="1.25" shape-rendering="crispEdges"/><path d="M721.0 494.5h1M733.0 494.5h1M727.5 488.0v1M727.5 500.0v1" stroke="#0072b2" stroke-width="1" fill="none" shape-rendering="crispEdges"/>
<path d="M730.5 491.5h6l2 2v6l-2 2h-6l-2 -2v-6zM736.0 492.0l2 2M736.0 501.0l2 -2M731.0 492.0l-2 2M731.0 501.0l-2 -2" fill="none" stroke="#0072b2" stroke-width="1.25" shape-rendering="crispEdges"/><path d="M727.0 496.5h1M739.0 496.5h1M733.5 490.0v1M733.5 502.0v1" stroke="#0072b2" stroke-width="1" fill="none" shape-rendering="crispEdges"/>
<path d="M777.5 500.5h6l2 2v6l-2 2h-6l-2 -2v-6zM783.0 501.0l2 2M783.0 510.0l2 -2M778.0 501.0l-2 2M778.0 510.0l-2 -2" fill="none" stroke="#0072b2" stroke-width="1.25" shape-rendering="crispEdges"/><path d="M774.0 505.5h1M786.0 505.5h1M780.5 499.0v1M780.5 511.0v1" stroke="#0072b2" stroke-width="1" fill="none" shape-rendering="crispEdges"/>
<path d="M783.5 499.5h6l2 2v6l-2 2h-6l-2 -2v-6zM789.0 500.0l2 2M789.0 509.0l2 -2M784.0 500.0l-2 2M784.0 509.0l-2 -2" fill="none" stroke="#0072b2" stroke-width="1.25" shape-rendering="crispEdges"/><path d="M780.0 504.5h1M792.0 504.5h1M786.5 498.0v1M786.5 510.0v1" stroke="#0072b2" stroke-width="1" fill="none" shape-rendering="crispEdges"/>
<path d="M830.5 499.5h6l2 2v6l-2 2h-6l-2 -2v-6zM836.0 500.0l2 2M836.0 509.0l2 -2M831.0 500.0l-2 2M831.0 509.0l-2 -2" fill="none" stroke="#0072b2" stroke-width="1.25" shape-rendering="crispEdges"/><path d="M827.0 504.5h1M839.0 504.5h1M833.5 498.0v1M833.5 510.0v1" stroke="#0072b2" stroke-width="1" fill="none" shape-rendering="crispEdges"/>
<path d="M837.5 492.5h6l2 2v6l-2 2h-6l-2 -2v-6zM843.0 493.0l2 2M843.0 502.0l2 -2M838.0 493.0l-2 2M838.0 502.0l-2 -2" fill="none" stroke="#0072b2" stroke-width="1.25" shape-rendering="crispEdges"/><path d="M834.0 497.5h1M846.0 497.5h1M840.5 491.0v1M840.5 503.0v1" stroke="#0072b2" stroke-width="1" fill="none" shape-rendering="crispEdges"/>
<path d="M883.5 492.5h6l2 2v6l-2 2h-6l-2 -2v-6zM889.0 493.0l2 2M889.0 502.0l2 -2M884.0 493.0l-2 2M884.0 502.0l-2 -2" fill="none" stroke="#0072b2" stroke-width="1.25" shape-rendering="crispEdges"/><path d="M880.0 497.5h1M892.0 497.5h1M886.5 491.0v1M886.5 503.0v1" stroke="#0072b2" stroke-width="1" fill="none" shape-rendering="crispEdges"/>
<path d="M890.5 487.5h6l2 2v6l-2 2h-6l-2 -2v-6zM896.0 488.0l2 2M896.0 497.0l2 -2M891.0 488.0l-2 2M891.0 497.0l-2 -2" fill="none" stroke="#0072b2" stroke-width="1.25" shape-rendering="crispEdges"/><path d="M887.0 492.5h1M899.0 492.5h1M893.5 486.0v1M893.5 498.0v1" stroke="#0072b2" stroke-width="1" fill="none" shape-rendering="crispEdges"/>
<path d="M937.5 493.5h6l2 2v6l-2 2h-6l-2 -2v-6zM943.0 494.0l2 2M943.0 503.0l2 -2M938.0 494.0l-2 2M938.0 503.0l-2 -2" fill="none" stroke="#0072b2" stroke-width="1.25" shape-rendering="crispEdges"/><path d="M934.0 498.5h1M946.0 498.5h1M940.5 492.0v1M940.5 504.0v1" stroke="#0072b2" stroke-width="1" fill="none" shape-rendering="crispEdges"/>
<path d="M943.5 497.5h6l2 2v6l-2 2h-6l-2 -2v-6zM949.0 498.0l2 2M949.0 507.0l2 -2M944.0 498.0l-2 2M944.0 507.0l-2 -2" fill="none" stroke="#0072b2" stroke-width="1.25" shape-rendering="crispEdges"/><path d="M940.0 502.5h1M952.0 502.5h1M946.5 496.0v1M946.5 508.0v1" stroke="#0072b2" stroke-width="1" fill="none" shape-rendering="crispEdges"/>
<path d="M990.5 499.5h6l2 2v6l-2 2h-6l-2 -2v-6zM996.0 500.0l2 2M996.0 509.0l2 -2M991.0 500.0l-2 2M991.0 509.0l-2 -2" fill="none" stroke="#0072b2" stroke-width="1.25" shape-rendering="crispEdges"/><path d="M987.0 504.5h1M999.0 504.5h1M993.5 498.0v1M993.5 510.0v1" stroke="#0072b2" stroke-width="1" fill="none" shape-rendering="crispEdges"/>
<path d="M996.5 491.5h6l2 2v6l-2 2h-6l-2 -2v-6zM1002.0 492.0l2 2M1002.0 501.0l2 -2M997.0 492.0l-2 2M997.0 501.0l-2 -2" fill="none" stroke="#0072b2" stroke-width="1.25" shape-rendering="crispEdges"/><path d="M993.0 496.5h1M1005.0 496.5h1M999.5 490.0v1M999.5 502.0v1" stroke="#0072b2" stroke-width="1" fill="none" shape-rendering="crispEdges"/>
<path d="M1043.5 493.5h6l2 2v6l-2 2h-6l-2 -2v-6zM1049.0 494.0l2 2M1049.0 503.0l2 -2M1044.0 494.0l-2 2M1044.0 503.0l-2 -2" fill="none" stroke="#0072b2" stroke-width="1.25" shape-rendering="crispEdges"/><path d="M1040.0 498.5h1M1052.0 498.5h1M1046.5 492.0v1M1046.5 504.0v1" stroke="#0072b2" stroke-width="1" fill="none" shape-rendering="crispEdges"/>
<path d="M1049.5 493.5h6l2 2v6l-2 2h-6l-2 -2v-6zM1055.0 494.0l2 2M1055.0 503.0l2 -2M1050.0 494.0l-2 2M1050.0 503.0l-2 -2" fill="none" stroke="#0072b2" stroke-width="1.25" shape-rendering="crispEdges"/><path d="M1046.0 498.5h1M1058.0 498.5h1M1052.5 492.0v1M1052.5 504.0v1" stroke="#0072b2" stroke-width="1" fill="none" shape-rendering="crispEdges"/>
<path d="M1096.5 499.5h6l2 2v6l-2 2h-6l-2 -2v-6zM1102.0 500.0l2 2M1102.0 509.0l2 -2M1097.0 500.0l-2 2M1097.0 509.0l-2 -2" fill="none" stroke="#0072b2" stroke-width="1.25" shape-rendering="crispEdges"/><path d="M1093.0 504.5h1M1105.0 504.5h1M1099.5 498.0v1M1099.5 510.0v1" stroke="#0072b2" stroke-width="1" fill="none" shape-rendering="crispEdges"/>
<path d="M1102.5 499.5h6l2 2v6l-2 2h-6l-2 -2v-6zM1108.0 500.0l2 2M1108.0 509.0l2 -2M1103.0 500.0l-2 2M1103.0 509.0l-2 -2" fill="none" stroke="#0072b2" stroke-width="1.25" shape-rendering="crispEdges"/><path d="M1099.0 504.5h1M1111.0 504.5h1M1105.5 498.0v1M1105.5 510.0v1" stroke="#0072b2" stroke-width="1" fill="none" shape-rendering="crispEdges"/>
<path d="M1149.5 491.5h6l2 2v6l-2 2h-6l-2 -2v-6zM1155.0 492.0l2 2M1155.0 501.0l2 -2M1150.0 492.0l-2 2M1150.0 501.0l-2 -2" fill="none" stroke="#0072b2" stroke-width="1.25" shape-rendering="crispEdges"/><path d="M1146.0 496.5h1M1158.0 496.5h1M1152.5 490.0v1M1152.5 502.0v1" stroke="#0072b2" stroke-width="1" fill="none" shape-rendering="crispEdges"/>
<path d="M1155.5 501.5h6l2 2v6l-2 2h-6l-2 -2v-6zM1161.0 502.0l2 2M1161.0 511.0l2 -2M1156.0 502.0l-2 2M1156.0 511.0l-2 -2" fill="none" stroke="#0072b2" stroke-width="1.25" shape-rendering="crispEdges"/><path d="M1152.0 506.5h1M1164.0 506.5h1M1158.5 500.0v1M1158.5 512.0v1" stroke="#0072b2" stroke-width="1" fill="none" shape-rendering="crispEdges"/>
<path d="M1202.5 500.5h6l2 2v6l-2 2h-6l-2 -2v-6zM1208.0 501.0l2 2M1208.0 510.0l2 -2M1203.0 501.0l-2 2M1203.0 510.0l-2 -2" fill="none" stroke="#0072b2" stroke-width="1.25" shape-rendering="crispEdges"/><path d="M1199.0 505.5h1M1211.0 505.5h1M1205.5 499.0v1M1205.5 511.0v1" stroke="#0072b2" stroke-width="1" fill="none" shape-rendering="crispEdges"/>
<path d="M1208.5 497.5h6l2 2v6l-2 2h-6l-2 -2v-6zM1214.0 498.0l2 2M1214.0 507.0l2 -2M1209.0 498.0l-2 2M1209.0 507.0l-2 -2" fill="none" stroke="#0072b2" stroke-width="1.25" shape-rendering="crispEdges"/><path d="M1205.0 502.5h1M1217.0 502.5h1M1211.5 496.0v1M1211.5 508.0v1" stroke="#0072b2" stroke-width="1" fill="none" shape-rendering="crispEdges"/>
<path d="M1255.5 500.5h6l2 2v6l-2 2h-6l-2 -2v-6zM1261.0 501.0l2 2M1261.0 510.0l2 -2M1256.0 501.0l-2 2M1256.0 510.0l-2 -2" fill="none" stroke="#0072b2" stroke-width="1.25" shape-rendering="crispEdges"/><path d="M1252.0 505.5h1M1264.0 505.5h1M1258.5 499.0v1M1258.5 511.0v1" stroke="#0072b2" stroke-width="1" fill="none" shape-rendering="crispEdges"/>
<path d="M1262.5 493.5h6l2 2v6l-2 2h-6l-2 -2v-6zM1268.0 494.0l2 2M1268.0 503.0l2 -2M1263.0 494.0l-2 2M1263.0 503.0l-2 -2" fill="none" stroke="#0072b2" stroke-width="1.25" shape-rendering="crispEdges"/><path d="M1259.0 498.5h1M1271.0 498.5h1M1265.5 492.0v1M1265.5 504.0v1" stroke="#0072b2" stroke-width="1" fill="none" shape-rendering="crispEdges"/>
<path d="M1308.5 491.5h6l2 2v6l-2 2h-6l-2 -2v-6zM1314.0 492.0l2 2M1314.0 501.0l2 -2M1309.0 492.0l-2 2M1309.0 501.0l-2 -2" fill="none" stroke="#0072b2" stroke-width="1.25" shape-rendering="crispEdges"/><path d="M1305.0 496.5h1M1317.0 496.5h1M1311.5 490.0v1M1311.5 502.0v1" stroke="#0072b2" stroke-width="1" fill="none" shape-rendering="crispEdges"/>
<path d="M1315.5 493.5h6l2 2v6l-2 2h-6l-2 -2v-6zM1321.0 494.0l2 2M1321.0 503.0l2 -2M1316.0 494.0l-2 2M1316.0 503.0l-2 -2" fill="none" stroke="#0072b2" stroke-width="1.25" shape-rendering="crispEdges"/><path d="M1312.0 498.5h1M1324.0 498.5h1M1318.5 492.0v1M1318.5 504.0v1" stroke="#0072b2" stroke-width="1" fill="none" shape-rendering="crispEdges"/>
<path d="M1362.5 501.5h6l2 2v6l-2 2h-6l-2 -2v-6zM1368.0 502.0l2 2M1368.0 511.0l2 -2M1363.0 502.0l-2 2M1363.0 511.0l-2 -2" fill="none" stroke="#0072b2" stroke-width="1.25" shape-rendering="crispEdges"/><path d="M1359.0 506.5h1M1371.0 506.5h1M1365.5 500.0v1M1365.5 512.0v1" stroke="#0072b2" stroke-width="1" fill="none" shape-rendering="crispEdges"/>
<circle cx="96.5" cy="537.5" r="5.9" fill="#e51e10" shape-rendering="crispEdges"/><path d="M90.0 537.5h13M96.5 531.0v13" stroke="#e51e10" stroke-width="1" fill="none" shape-rendering="crispEdges"/>
<circle cx="143.5" cy="537.5" r="5.9" fill="#e51e10" shape-rendering="crispEdges"/><path d="M137.0 537.5h13M143.5 531.0v13" stroke="#e51e10" stroke-width="1" fill="none" shape-rendering="crispEdges"/>
<circle cx="202.5" cy="536.5" r="5.9" fill="#e51e10" shape-rendering="crispEdges"/><path d="M196.0 536.5h13M202.5 530.0v13" stroke="#e51e10" stroke-width="1" fill="none" shape-rendering="crispEdges"/>
<circle cx="249.5" cy="537.5" r="5.9" fill="#e51e10" shape-rendering="crispEdges"/><path d="M243.0 537.5h13M249.5 531.0v13" stroke="#e51e10" stroke-width="1" fill="none" shape-rendering="crispEdges"/>
<circle cx="255.5" cy="537.5" r="5.9" fill="#e51e10" shape-rendering="crispEdges"/><path d="M249.0 537.5h13M255.5 531.0v13" stroke="#e51e10" stroke-width="1" fill="none" shape-rendering="crispEdges"/>
<circle cx="302.5" cy="537.5" r="5.9" fill="#e51e10" shape-rendering="crispEdges"/><path d="M296.0 537.5h13M302.5 531.0v13" stroke="#e51e10" stroke-width="1" fill="none" shape-rendering="crispEdges"/>
<circle cx="308.5" cy="537.5" r="5.9" fill="#e51e10" shape-rendering="crispEdges"/><path d="M302.0 537.5h13M308.5 531.0v13" stroke="#e51e10" stroke-width="1" fill="none" shape-rendering="crispEdges"/>
<circle cx="355.5" cy="537.5" r="5.9" fill="#e51e10" shape-rendering="crispEdges"/><path d="M349.0 537.5h13M355.5 531.0v13" stroke="#e51e10" stroke-width="1" fill="none" shape-rendering="crispEdges"/>
<circle cx="361.5" cy="537.5" r="5.9" fill="#e51e10" shape-rendering="crispEdges"/><path d="M355.0 537.5h13M361.5 531.0v13" stroke="#e51e10" stroke-width="1" fill="none" shape-rendering="crispEdges"/>
<circle cx="408.5" cy="537.5" r="5.9" fill="#e51e10" shape-rendering="crispEdges"/><path d="M402.0 537.5h13M408.5 531.0v13" stroke="#e51e10" stroke-width="1" fill="none" shape-rendering="crispEdges"/>
<circle cx="415.5" cy="537.5" r="5.9" fill="#e51e10" shape-rendering="crispEdges"/><path d="M409.0 537.5h13M415.5 531.0v13" stroke="#e51e10" stroke-width="1" fill="none" shape-rendering="crispEdges"/>
<circle cx="461.5" cy="537.5" r="5.9" fill="#e51e10" shape-rendering="crispEdges"/><path d="M455.0 537.5h13M461.5 531.0v13" stroke="#e51e10" stroke-width="1" fill="none" shape-rendering="crispEdges"/>
<circle cx="468.5" cy="537.5" r="5.9" fill="#e51e10" shape-rendering="crispEdges"/><path d="M462.0 537.5h13M468.5 531.0v13" stroke="#e51e10" stroke-width="1" fill="none" shape-rendering="crispEdges"/>
<circle cx="515.5" cy="537.5" r="5.9" fill="#e51e10" shape-rendering="crispEdges"/><path d="M509.0 537.5h13M515.5 531.0v13" stroke="#e51e10" stroke-width="1" fill="none" shape-rendering="crispEdges"/>
<circle cx="521.5" cy="537.5" r="5.9" fill="#e51e10" shape-rendering="crispEdges"/><path d="M515.0 537.5h13M521.5 531.0v13" stroke="#e51e10" stroke-width="1" fill="none" shape-rendering="crispEdges"/>
<circle cx="568.5" cy="537.5" r="5.9" fill="#e51e10" shape-rendering="crispEdges"/><path d="M562.0 537.5h13M568.5 531.0v13" stroke="#e51e10" stroke-width="1" fill="none" shape-rendering="crispEdges"/>
<circle cx="574.5" cy="537.5" r="5.9" fill="#e51e10" shape-rendering="crispEdges"/><path d="M568.0 537.5h13M574.5 531.0v13" stroke="#e51e10" stroke-width="1" fill="none" shape-rendering="crispEdges"/>
<circle cx="621.5" cy="537.5" r="5.9" fill="#e51e10" shape-rendering="crispEdges"/><path d="M615.0 537.5h13M621.5 531.0v13" stroke="#e51e10" stroke-width="1" fill="none" shape-rendering="crispEdges"/>
<circle cx="627.5" cy="537.5" r="5.9" fill="#e51e10" shape-rendering="crispEdges"/><path d="M621.0 537.5h13M627.5 531.0v13" stroke="#e51e10" stroke-width="1" fill="none" shape-rendering="crispEdges"/>
<circle cx="674.5" cy="537.5" r="5.9" fill="#e51e10" shape-rendering="crispEdges"/><path d="M668.0 537.5h13M674.5 531.0v13" stroke="#e51e10" stroke-width="1" fill="none" shape-rendering="crispEdges"/>
<circle cx="680.5" cy="537.5" r="5.9" fill="#e51e10" shape-rendering="crispEdges"/><path d="M674.0 537.5h13M680.5 531.0v13" stroke="#e51e10" stroke-width="1" fill="none" shape-rendering="crispEdges"/>
<circle cx="727.5" cy="537.5" r="5.9" fill="#e51e10" shape-rendering="crispEdges"/><path d="M721.0 537.5h13M727.5 531.0v13" stroke="#e51e10" stroke-width="1" fill="none" shape-rendering="crispEdges"/>
<circle cx="733.5" cy="537.5" r="5.9" fill="#e51e10" shape-rendering="crispEdges"/><path d="M727.0 537.5h13M733.5 531.0v13" stroke="#e51e10" stroke-width="1" fill="none" shape-rendering="crispEdges"/>
<circle cx="780.5" cy="537.5" r="5.9" fill="#e51e10" shape-rendering="crispEdges"/><path d="M774.0 537.5h13M780.5 531.0v13" stroke="#e51e10" stroke-width="1" fill="none" shape-rendering="crispEdges"/>
<circle cx="786.5" cy="537.5" r="5.9" fill="#e51e10" shape-rendering="crispEdges"/><path d="M780.0 537.5h13M786.5 531.0v13" stroke="#e51e10" stroke-width="1" fill="none" shape-rendering="crispEdges"/>
<circle cx="833.5" cy="537.5" r="5.9" fill="#e51e10" shape-rendering="crispEdges"/><path d="M827.0 537.5h13M833.5 531.0v13" stroke="#e51e10" stroke-width="1" fill="none" shape-rendering="crispEdges"/>
<circle cx="840.5" cy="537.5" r="5.9" fill="#e51e10" shape-rendering="crispEdges"/><path d="M834.0 537.5h13M840.5 531.0v13" stroke="#e51e10" stroke-width="1" fill="none" shape-rendering="crispEdges"/>
<circle cx="886.5" cy="537.5" r="5.9" fill="#e51e10" shape-rendering="crispEdges"/><path d="M880.0 537.5h13M886.5 531.0v13" stroke="#e51e10" stroke-width="1" fill="none" shape-rendering="crispEdges"/>
<circle cx="893.5" cy="537.5" r="5.9" fill="#e51e10" shape-rendering="crispEdges"/><path d="M887.0 537.5h13M893.5 531.0v13" stroke="#e51e10" stroke-width="1" fill="none" shape-rendering="crispEdges"/>
<circle cx="940.5" cy="537.5" r="5.9" fill="#e51e10" shape-rendering="crispEdges"/><path d="M934.0 537.5h13M940.5 531.0v13" stroke="#e51e10" stroke-width="1" fill="none" shape-rendering="crispEdges"/>
<circle cx="946.5" cy="537.5" r="5.9" fill="#e51e10" shape-rendering="crispEdges"/><path d="M940.0 537.5h13M946.5 531.0v13" stroke="#e51e10" stroke-width="1" fill="none" shape-rendering="crispEdges"/>
<circle cx="993.5" cy="537.5" r="5.9" fill="#e51e10" shape-rendering="crispEdges"/><path d="M987.0 537.5h13M993.5 531.0v13" stroke="#e51e10" stroke-width="1" fill="none" shape-rendering="crispEdges"/>
<circle cx="999.5" cy="537.5" r="5.9" fill="#e51e10" shape-rendering="crispEdges"/><path d="M993.0 537.5h13M999.5 531.0v13" stroke="#e51e10" stroke-width="1" fill="none" shape-rendering="crispEdges"/>
<circle cx="1046.5" cy="537.5" r="5.9" fill="#e51e10" shape-rendering="crispEdges"/><path d="M1040.0 537.5h13M1046.5 531.0v13" stroke="#e51e10" stroke-width="1" fill="none" shape-rendering="crispEdges"/>
<circle cx="1052.5" cy="537.5" r="5.9" fill="#e51e10" shape-rendering="crispEdges"/><path d="M1046.0 537.5h13M1052.5 531.0v13" stroke="#e51e10" stroke-width="1" fill="none" shape-rendering="crispEdges"/>
<circle cx="1099.5" cy="537.5" r="5.9" fill="#e51e10" shape-rendering="crispEdges"/><path d="M1093.0 537.5h13M1099.5 531.0v13" stroke="#e51e10" stroke-width="1" fill="none" shape-rendering="crispEdges"/>
<circle cx="1105.5" cy="537.5" r="5.9" fill="#e51e10" shape-rendering="crispEdges"/><path d="M1099.0 537.5h13M1105.5 531.0v13" stroke="#e51e10" stroke-width="1" fill="none" shape-rendering="crispEdges"/>
<circle cx="1152.5" cy="537.5" r="5.9" fill="#e51e10" shape-rendering="crispEdges"/><path d="M1146.0 537.5h13M1152.5 531.0v13" stroke="#e51e10" stroke-width="1" fill="none" shape-rendering="crispEdges"/>
<circle cx="1158.5" cy="537.5" r="5.9" fill="#e51e10" shape-rendering="crispEdges"/><path d="M1152.0 537.5h13M1158.5 531.0v13" stroke="#e51e10" stroke-width="1" fill="none" shape-rendering="crispEdges"/>
<circle cx="1205.5" cy="537.5" r="5.9" fill="#e51e10" shape-rendering="crispEdges"/><path d="M1199.0 537.5h13M1205.5 531.0v13" stroke="#e51e10" stroke-width="1" fill="none" shape-rendering="crispEdges"/>
<circle cx="1211.5" cy="537.5" r="5.9" fill="#e51e10" shape-rendering="crispEdges"/><path d="M1205.0 537.5h13M1211.5 531.0v13" stroke="#e51e10" stroke-width="1" fill="none" shape-rendering="crispEdges"/>
<circle cx="1258.5" cy="537.5" r="5.9" fill="#e51e10" shape-rendering="crispEdges"/><path d="M1252.0 537.5h13M1258.5 531.0v13" stroke="#e51e10" stroke-width="1" fill="none" shape-rendering="crispEdges"/>
<circle cx="1265.5" cy="537.5" r="5.9" fill="#e51e10" shape-rendering="crispEdges"/><path d="M1259.0 537.5h13M1265.5 531.0v13" stroke="#e51e10" stroke-width="1" fill="none" shape-rendering="crispEdges"/>
<circle cx="1311.5" cy="537.5" r="5.9" fill="#e51e10" shape-rendering="crispEdges"/><path d="M1305.0 537.5h13M1311.5 531.0v13" stroke="#e51e10" stroke-width="1" fill="none" shape-rendering="crispEdges"/>
<circle cx="1318.5" cy="537.5" r="5.9" fill="#e51e10" shape-rendering="crispEdges"/><path d="M1312.0 537.5h13M1318.5 531.0v13" stroke="#e51e10" stroke-width="1" fill="none" shape-rendering="crispEdges"/>
<circle cx="1365.5" cy="537.5" r="5.9" fill="#e51e10" shape-rendering="crispEdges"/><path d="M1359.0 537.5h13M1365.5 531.0v13" stroke="#e51e10" stroke-width="1" fill="none" shape-rendering="crispEdges"/>
<path d="M200.5 456.5L208.5 468.5H192.5Z" fill="none" stroke="#000" stroke-width="1" shape-rendering="crispEdges"/>
<path d="M321.5 456.5L329.5 468.5H313.5Z" fill="none" stroke="#000" stroke-width="1" shape-rendering="crispEdges"/>
<path d="M600.5 456.5L608.5 468.5H592.5Z" fill="none" stroke="#000" stroke-width="1" shape-rendering="crispEdges"/>
<path d="M879.5 456.5L887.5 468.5H871.5Z" fill="none" stroke="#000" stroke-width="1" shape-rendering="crispEdges"/>
<path d="M959.5 456.5L967.5 468.5H951.5Z" fill="none" stroke="#000" stroke-width="1" shape-rendering="crispEdges"/>
<path d="M1187.5 456.5L1195.5 468.5H1179.5Z" fill="none" stroke="#000" stroke-width="1" shape-rendering="crispEdges"/>
<path d="M1277.5 456.5L1285.5 468.5H1269.5Z" fill="none" stroke="#000" stroke-width="1" shape-rendering="crispEdges"/>
<path d="M94.5 402.5L102.5 414.5H86.5Z" fill="#9400d3" stroke="#9400d3" stroke-width="1" shape-rendering="crispEdges"/>
<path d="M200.5 402.5L208.5 414.5H192.5Z" fill="#9400d3" stroke="#9400d3" stroke-width="1" shape-rendering="crispEdges"/>
<path d="M194.0 421.5h13M200.5 415.0v13" stroke="#009e73" stroke-width="1" fill="none" shape-rendering="crispEdges"/>
</g>
<g id="legend-samples">
<path d="M1303 73.5H1350" stroke="#9400d3" stroke-width="1" shape-rendering="crispEdges"/>
<path d="M1303 92.5H1350" stroke="#009e73" stroke-width="1" shape-rendering="crispEdges"/>
<path d="M1303 111.5H1350" stroke="#56b4e9" stroke-width="1" shape-rendering="crispEdges"/>
<rect x="1320.5" y="124.5" width="12" height="12" fill="none" stroke="#e69f00" stroke-width="1" shape-rendering="crispEdges"/>
<rect x="1320.5" y="143.5" width="12" height="12" fill="#f0e442" stroke="#f0e442" stroke-width="1" shape-rendering="crispEdges"/>
<path d="M1323.5 163.5h6l2 2v6l-2 2h-6l-2 -2v-6zM1329.0 164.0l2 2M1329.0 173.0l2 -2M1324.0 164.0l-2 2M1324.0 173.0l-2 -2" fill="none" stroke="#0072b2" stroke-width="1.25" shape-rendering="crispEdges"/><path d="M1320.0 168.5h1M1332.0 168.5h1M1326.5 162.0v1M1326.5 174.0v1" stroke="#0072b2" stroke-width="1" fill="none" shape-rendering="crispEdges"/>
<circle cx="1326.5" cy="187.5" r="5.9" fill="#e51e10" shape-rendering="crispEdges"/><path d="M1320.0 187.5h13M1326.5 181.0v13" stroke="#e51e10" stroke-width="1" fill="none" shape-rendering="crispEdges"/>
<path d="M1326.5 198.5L1334.5 210.5H1318.5Z" fill="none" stroke="#000" stroke-width="1" shape-rendering="crispEdges"/>
<path d="M1326.5 217.5L1334.5 229.5H1318.5Z" fill="#9400d3" stroke="#9400d3" stroke-width="1" shape-rendering="crispEdges"/>
<path d="M1320.0 244.5h13M1326.5 238.0v13" stroke="#009e73" stroke-width="1" fill="none" shape-rendering="crispEdges"/>
</g>
<rect x="94.5" y="57.5" width="1275.0" height="482.0" stroke="#000" stroke-width="1" fill="none" shape-rendering="crispEdges"/>
</svg></body></html>
